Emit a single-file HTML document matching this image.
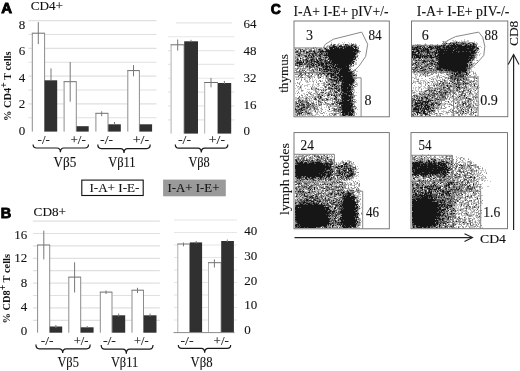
<!DOCTYPE html><html><head><meta charset="utf-8"><style>html,body{margin:0;padding:0;background:#fff}svg{display:block;filter:blur(0.3px)}</style></head><body><svg width="520" height="371" viewBox="0 0 520 371">
<rect width="520" height="371" fill="#fff"/>
<text x="1.2" y="13.2" font-family="Liberation Sans" font-size="15" font-weight="bold" fill="#000" stroke="#000" stroke-width="0.9">A</text>
<text x="30.7" y="9.8" font-family="Liberation Serif" font-size="13" textLength="32.3" lengthAdjust="spacingAndGlyphs" fill="#111" stroke="#222" stroke-width="0.12" >CD4+</text>
<line x1="28.5" y1="20.6" x2="156.5" y2="20.6" stroke="#e0e0e0" stroke-width="1.2" />
<line x1="28.5" y1="34.475" x2="156.5" y2="34.475" stroke="#e0e0e0" stroke-width="1.2" />
<line x1="28.5" y1="48.35" x2="156.5" y2="48.35" stroke="#e0e0e0" stroke-width="1.2" />
<line x1="28.5" y1="62.225" x2="156.5" y2="62.225" stroke="#e0e0e0" stroke-width="1.2" />
<line x1="28.5" y1="76.1" x2="156.5" y2="76.1" stroke="#e0e0e0" stroke-width="1.2" />
<line x1="28.5" y1="89.975" x2="156.5" y2="89.975" stroke="#e0e0e0" stroke-width="1.2" />
<line x1="28.5" y1="103.85" x2="156.5" y2="103.85" stroke="#e0e0e0" stroke-width="1.2" />
<line x1="28.5" y1="117.725" x2="156.5" y2="117.725" stroke="#e0e0e0" stroke-width="1.2" />
<rect x="31.80" y="33.20" width="13.10" height="98.40" fill="#fff" />
<path d="M32.30,131.60 V33.20 M44.60,33.20 V131.60" fill="none" stroke="#8c8c8c" stroke-width="1"/>
<path d="M31.80,33.20 H44.90" fill="none" stroke="#6e6e6e" stroke-width="1"/>
<rect x="44.60" y="80.30" width="12.60" height="51.30" fill="#303030" />
<rect x="63.60" y="81.70" width="13.00" height="49.90" fill="#fff" />
<path d="M64.10,131.60 V81.70 M76.30,81.70 V131.60" fill="none" stroke="#8c8c8c" stroke-width="1"/>
<path d="M63.60,81.70 H76.60" fill="none" stroke="#6e6e6e" stroke-width="1"/>
<rect x="76.60" y="126.20" width="12.10" height="5.40" fill="#303030" />
<rect x="95.40" y="113.30" width="12.90" height="18.30" fill="#fff" />
<path d="M95.90,131.60 V113.30 M108.00,113.30 V131.60" fill="none" stroke="#8c8c8c" stroke-width="1"/>
<path d="M95.40,113.30 H108.30" fill="none" stroke="#6e6e6e" stroke-width="1"/>
<rect x="108.30" y="124.30" width="12.50" height="7.30" fill="#303030" />
<rect x="127.30" y="70.60" width="12.40" height="61.00" fill="#fff" />
<path d="M127.80,131.60 V70.60 M139.40,70.60 V131.60" fill="none" stroke="#8c8c8c" stroke-width="1"/>
<path d="M127.30,70.60 H139.70" fill="none" stroke="#6e6e6e" stroke-width="1"/>
<rect x="139.70" y="124.30" width="12.40" height="7.30" fill="#303030" />
<line x1="38.3" y1="22.1" x2="38.3" y2="44.1" stroke="#787878" stroke-width="1" />
<line x1="51.0" y1="68.4" x2="51.0" y2="81" stroke="#787878" stroke-width="1" />
<line x1="70.2" y1="62" x2="70.2" y2="101.7" stroke="#787878" stroke-width="1" />
<line x1="101.7" y1="111.3" x2="101.7" y2="116.2" stroke="#787878" stroke-width="1" />
<line x1="114.5" y1="122" x2="114.5" y2="125" stroke="#787878" stroke-width="1" />
<line x1="133.5" y1="65.1" x2="133.5" y2="76.3" stroke="#787878" stroke-width="1" />
<line x1="168" y1="36.739999999999995" x2="234.3" y2="36.739999999999995" stroke="#e6e6e6" stroke-width="1.2" />
<line x1="168" y1="50.58" x2="234.3" y2="50.58" stroke="#e6e6e6" stroke-width="1.2" />
<line x1="168" y1="64.41999999999999" x2="234.3" y2="64.41999999999999" stroke="#e6e6e6" stroke-width="1.2" />
<line x1="168" y1="78.25999999999999" x2="234.3" y2="78.25999999999999" stroke="#e6e6e6" stroke-width="1.2" />
<line x1="168" y1="92.1" x2="234.3" y2="92.1" stroke="#e6e6e6" stroke-width="1.2" />
<line x1="168" y1="105.94" x2="234.3" y2="105.94" stroke="#e6e6e6" stroke-width="1.2" />
<line x1="168" y1="119.78" x2="234.3" y2="119.78" stroke="#e6e6e6" stroke-width="1.2" />
<rect x="170.60" y="44.80" width="13.60" height="88.80" fill="#fff" />
<path d="M171.10,133.60 V44.80 M183.90,44.80 V133.60" fill="none" stroke="#b0b0b0" stroke-width="1"/>
<path d="M170.60,44.80 H184.20" fill="none" stroke="#6e6e6e" stroke-width="1"/>
<rect x="184.20" y="41.30" width="13.80" height="92.30" fill="#303030" />
<rect x="204.20" y="82.50" width="13.70" height="51.10" fill="#fff" />
<path d="M204.70,133.60 V82.50 M217.60,82.50 V133.60" fill="none" stroke="#b0b0b0" stroke-width="1"/>
<path d="M204.20,82.50 H217.90" fill="none" stroke="#6e6e6e" stroke-width="1"/>
<rect x="217.90" y="83.00" width="13.30" height="50.60" fill="#303030" />
<line x1="177.7" y1="39.5" x2="177.7" y2="50.6" stroke="#787878" stroke-width="1" />
<line x1="191" y1="39.8" x2="191" y2="42" stroke="#787878" stroke-width="1" />
<line x1="211" y1="78" x2="211" y2="87.3" stroke="#787878" stroke-width="1" />
<line x1="224.4" y1="81" x2="224.4" y2="84" stroke="#787878" stroke-width="1" />
<line x1="175.8" y1="22.9" x2="232" y2="22.9" stroke="#e6e6e6" stroke-width="1.2" />
<text x="25.3" y="28.8" font-family="Liberation Serif" font-size="13" text-anchor="end" fill="#111" stroke="#222" stroke-width="0.1" >8</text>
<text x="25.3" y="55.2" font-family="Liberation Serif" font-size="13" text-anchor="end" fill="#111" stroke="#222" stroke-width="0.1" >6</text>
<text x="25.3" y="81.8" font-family="Liberation Serif" font-size="13" text-anchor="end" fill="#111" stroke="#222" stroke-width="0.1" >4</text>
<text x="25.3" y="108.2" font-family="Liberation Serif" font-size="13" text-anchor="end" fill="#111" stroke="#222" stroke-width="0.1" >2</text>
<text x="25.3" y="134.6" font-family="Liberation Serif" font-size="13" text-anchor="end" fill="#111" stroke="#222" stroke-width="0.1" >0</text>
<text x="243.5" y="27.7" font-family="Liberation Serif" font-size="13" fill="#111" stroke="#222" stroke-width="0.1" >64</text>
<text x="243.5" y="54.6" font-family="Liberation Serif" font-size="13" fill="#111" stroke="#222" stroke-width="0.1" >48</text>
<text x="243.5" y="82" font-family="Liberation Serif" font-size="13" fill="#111" stroke="#222" stroke-width="0.1" >32</text>
<text x="243.5" y="108.8" font-family="Liberation Serif" font-size="13" fill="#111" stroke="#222" stroke-width="0.1" >16</text>
<text x="243.5" y="134.8" font-family="Liberation Serif" font-size="13" fill="#111" stroke="#222" stroke-width="0.1" >0</text>
<text transform="translate(10.8,121) rotate(-90)" font-family="Liberation Serif" font-size="11" font-weight="bold" fill="#111" textLength="69.6" lengthAdjust="spacingAndGlyphs">% CD4<tspan font-size="10" dy="-3.5">+</tspan><tspan dy="3.5"> T cells</tspan></text>
<text x="37.6" y="143.5" font-family="Liberation Serif" font-size="13" textLength="12.2" lengthAdjust="spacingAndGlyphs" fill="#111" stroke="#222" stroke-width="0.12" >-/-</text>
<text x="70.4" y="143.5" font-family="Liberation Serif" font-size="13" textLength="15.4" lengthAdjust="spacingAndGlyphs" fill="#111" stroke="#222" stroke-width="0.12" >+/-</text>
<text x="100.1" y="143.5" font-family="Liberation Serif" font-size="13" textLength="12.9" lengthAdjust="spacingAndGlyphs" fill="#111" stroke="#222" stroke-width="0.12" >-/-</text>
<text x="132.7" y="143.5" font-family="Liberation Serif" font-size="13" textLength="16.4" lengthAdjust="spacingAndGlyphs" fill="#111" stroke="#222" stroke-width="0.12" >+/-</text>
<text x="178" y="143.5" font-family="Liberation Serif" font-size="13" textLength="13" lengthAdjust="spacingAndGlyphs" fill="#111" stroke="#222" stroke-width="0.12" >-/-</text>
<text x="208.8" y="143.5" font-family="Liberation Serif" font-size="13" textLength="16.2" lengthAdjust="spacingAndGlyphs" fill="#111" stroke="#222" stroke-width="0.12" >+/-</text>
<path d="M33.1,144.5 Q33.1,148 36.6,148 L56.9,148 Q60.4,148 60.4,152.3 Q60.4,148 63.9,148 L85.0,148 Q88.5,148 88.5,144.5" fill="none" stroke="#1a1a1a" stroke-width="1.2"/>
<path d="M97.8,144.6 Q97.8,148.6 101.3,148.6 L120.5,148.6 Q124,148.6 124,153 Q124,148.6 127.5,148.6 L146.7,148.6 Q150.2,148.6 150.2,144.6" fill="none" stroke="#1a1a1a" stroke-width="1.2"/>
<path d="M175.3,144.5 Q175.3,148.2 178.8,148.2 L197.8,148.2 Q201.3,148.2 201.3,152.6 Q201.3,148.2 204.8,148.2 L224.3,148.2 Q227.8,148.2 227.8,144.5" fill="none" stroke="#1a1a1a" stroke-width="1.2"/>
<text x="53.6" y="167" font-family="Liberation Serif" font-size="14" textLength="22.8" lengthAdjust="spacingAndGlyphs" fill="#111" stroke="#222" stroke-width="0.12" >Vβ5</text>
<text x="108.2" y="167" font-family="Liberation Serif" font-size="14" textLength="27.4" lengthAdjust="spacingAndGlyphs" fill="#111" stroke="#222" stroke-width="0.12" >Vβ11</text>
<text x="188.4" y="167" font-family="Liberation Serif" font-size="14" textLength="21.4" lengthAdjust="spacingAndGlyphs" fill="#111" stroke="#222" stroke-width="0.12" >Vβ8</text>
<rect x="81.80" y="180.10" width="61.40" height="15.40" fill="#fff" stroke="#111" stroke-width="1.1" />
<text x="89.4" y="191.8" font-family="Liberation Serif" font-size="13.5" textLength="50" lengthAdjust="spacingAndGlyphs" fill="#111" stroke="#222" stroke-width="0.12" >I-A+ I-E-</text>
<rect x="163.10" y="179.60" width="62.70" height="16.70" fill="#9a9a9a" />
<text x="167.5" y="191.8" font-family="Liberation Serif" font-size="13.5" textLength="51.9" lengthAdjust="spacingAndGlyphs" fill="#111" stroke="#222" stroke-width="0.12" >I-A+ I-E+</text>
<text x="0.8" y="218.4" font-family="Liberation Sans" font-size="14.5" font-weight="bold" fill="#000" stroke="#000" stroke-width="0.9">B</text>
<text x="33.6" y="216.4" font-family="Liberation Serif" font-size="13" textLength="32.4" lengthAdjust="spacingAndGlyphs" fill="#111" stroke="#222" stroke-width="0.12" >CD8+</text>
<line x1="33" y1="320.3" x2="159.8" y2="320.3" stroke="#e0e0e0" stroke-width="1.2" />
<line x1="33" y1="307.9" x2="159.8" y2="307.9" stroke="#e0e0e0" stroke-width="1.2" />
<line x1="33" y1="295.5" x2="159.8" y2="295.5" stroke="#e0e0e0" stroke-width="1.2" />
<line x1="33" y1="283.09999999999997" x2="159.8" y2="283.09999999999997" stroke="#e0e0e0" stroke-width="1.2" />
<line x1="33" y1="270.7" x2="159.8" y2="270.7" stroke="#e0e0e0" stroke-width="1.2" />
<line x1="33" y1="258.29999999999995" x2="159.8" y2="258.29999999999995" stroke="#e0e0e0" stroke-width="1.2" />
<line x1="33" y1="245.89999999999998" x2="159.8" y2="245.89999999999998" stroke="#e0e0e0" stroke-width="1.2" />
<line x1="33" y1="233.5" x2="159.8" y2="233.5" stroke="#e0e0e0" stroke-width="1.2" />
<line x1="33" y1="221.09999999999997" x2="159.8" y2="221.09999999999997" stroke="#e0e0e0" stroke-width="1.2" />
<rect x="37.10" y="245.00" width="12.90" height="87.70" fill="#fff" />
<path d="M37.60,332.70 V245.00 M49.70,245.00 V332.70" fill="none" stroke="#8c8c8c" stroke-width="1"/>
<path d="M37.10,245.00 H50.00" fill="none" stroke="#6e6e6e" stroke-width="1"/>
<rect x="49.80" y="326.50" width="12.40" height="6.20" fill="#303030" />
<rect x="68.30" y="277.10" width="12.70" height="55.60" fill="#fff" />
<path d="M68.80,332.70 V277.10 M80.70,277.10 V332.70" fill="none" stroke="#8c8c8c" stroke-width="1"/>
<path d="M68.30,277.10 H81.00" fill="none" stroke="#6e6e6e" stroke-width="1"/>
<rect x="80.80" y="327.30" width="12.80" height="5.40" fill="#303030" />
<rect x="99.80" y="292.10" width="12.50" height="40.60" fill="#fff" />
<path d="M100.30,332.70 V292.10 M112.00,292.10 V332.70" fill="none" stroke="#8c8c8c" stroke-width="1"/>
<path d="M99.80,292.10 H112.30" fill="none" stroke="#6e6e6e" stroke-width="1"/>
<rect x="112.30" y="315.30" width="12.90" height="17.40" fill="#303030" />
<rect x="131.50" y="290.20" width="12.30" height="42.50" fill="#fff" />
<path d="M132.00,332.70 V290.20 M143.50,290.20 V332.70" fill="none" stroke="#8c8c8c" stroke-width="1"/>
<path d="M131.50,290.20 H143.80" fill="none" stroke="#6e6e6e" stroke-width="1"/>
<rect x="143.80" y="315.30" width="12.70" height="17.40" fill="#303030" />
<line x1="43.8" y1="230.6" x2="43.8" y2="259.4" stroke="#787878" stroke-width="1" />
<line x1="55.9" y1="325" x2="55.9" y2="328" stroke="#787878" stroke-width="1" />
<line x1="74.6" y1="262.3" x2="74.6" y2="292.5" stroke="#787878" stroke-width="1" />
<line x1="87.2" y1="326" x2="87.2" y2="328" stroke="#787878" stroke-width="1" />
<line x1="106" y1="290.5" x2="106" y2="294" stroke="#787878" stroke-width="1" />
<line x1="118.7" y1="313.5" x2="118.7" y2="316.5" stroke="#787878" stroke-width="1" />
<line x1="137.5" y1="287.8" x2="137.5" y2="293" stroke="#787878" stroke-width="1" />
<line x1="150.1" y1="313.5" x2="150.1" y2="316.5" stroke="#787878" stroke-width="1" />
<line x1="174" y1="320.0" x2="237" y2="320.0" stroke="#e6e6e6" stroke-width="1.2" />
<line x1="174" y1="307.5" x2="237" y2="307.5" stroke="#e6e6e6" stroke-width="1.2" />
<line x1="174" y1="295.0" x2="237" y2="295.0" stroke="#e6e6e6" stroke-width="1.2" />
<line x1="174" y1="282.5" x2="237" y2="282.5" stroke="#e6e6e6" stroke-width="1.2" />
<line x1="174" y1="270.0" x2="237" y2="270.0" stroke="#e6e6e6" stroke-width="1.2" />
<line x1="174" y1="257.5" x2="237" y2="257.5" stroke="#e6e6e6" stroke-width="1.2" />
<line x1="174" y1="245.0" x2="237" y2="245.0" stroke="#e6e6e6" stroke-width="1.2" />
<line x1="174" y1="232.5" x2="237" y2="232.5" stroke="#e6e6e6" stroke-width="1.2" />
<line x1="174" y1="220.0" x2="237" y2="220.0" stroke="#e6e6e6" stroke-width="1.2" />
<rect x="177.30" y="244.00" width="12.50" height="88.50" fill="#fff" />
<path d="M177.80,332.50 V244.00 M189.50,244.00 V332.50" fill="none" stroke="#b0b0b0" stroke-width="1"/>
<path d="M177.30,244.00 H189.80" fill="none" stroke="#6e6e6e" stroke-width="1"/>
<rect x="189.80" y="242.40" width="12.30" height="90.10" fill="#303030" />
<rect x="208.00" y="262.70" width="13.20" height="69.80" fill="#fff" />
<path d="M208.50,332.50 V262.70 M220.90,262.70 V332.50" fill="none" stroke="#b0b0b0" stroke-width="1"/>
<path d="M208.00,262.70 H221.20" fill="none" stroke="#6e6e6e" stroke-width="1"/>
<rect x="221.20" y="241.00" width="12.70" height="91.50" fill="#303030" />
<line x1="183.5" y1="242.5" x2="183.5" y2="246.3" stroke="#787878" stroke-width="1" />
<line x1="196.2" y1="241" x2="196.2" y2="243.5" stroke="#787878" stroke-width="1" />
<line x1="214.4" y1="259.4" x2="214.4" y2="267.5" stroke="#787878" stroke-width="1" />
<line x1="227.3" y1="239.6" x2="227.3" y2="242" stroke="#787878" stroke-width="1" />
<line x1="173.5" y1="332.6" x2="234.5" y2="332.6" stroke="#8a8a8a" stroke-width="1" />
<text x="27.2" y="239.2" font-family="Liberation Serif" font-size="13" text-anchor="end" fill="#111" stroke="#222" stroke-width="0.1" >16</text>
<text x="27.2" y="262.3" font-family="Liberation Serif" font-size="13" text-anchor="end" fill="#111" stroke="#222" stroke-width="0.1" >12</text>
<text x="27.2" y="286.8" font-family="Liberation Serif" font-size="13" text-anchor="end" fill="#111" stroke="#222" stroke-width="0.1" >8</text>
<text x="27.2" y="311.2" font-family="Liberation Serif" font-size="13" text-anchor="end" fill="#111" stroke="#222" stroke-width="0.1" >4</text>
<text x="27.2" y="335.2" font-family="Liberation Serif" font-size="13" text-anchor="end" fill="#111" stroke="#222" stroke-width="0.1" >0</text>
<text x="244.2" y="234.9" font-family="Liberation Serif" font-size="13" fill="#111" stroke="#222" stroke-width="0.1" >40</text>
<text x="244.2" y="259.8" font-family="Liberation Serif" font-size="13" fill="#111" stroke="#222" stroke-width="0.1" >30</text>
<text x="244.2" y="285" font-family="Liberation Serif" font-size="13" fill="#111" stroke="#222" stroke-width="0.1" >20</text>
<text x="244.2" y="309.4" font-family="Liberation Serif" font-size="13" fill="#111" stroke="#222" stroke-width="0.1" >10</text>
<text x="244.2" y="333.8" font-family="Liberation Serif" font-size="13" fill="#111" stroke="#222" stroke-width="0.1" >0</text>
<text transform="translate(9.9,323.4) rotate(-90)" font-family="Liberation Serif" font-size="11" font-weight="bold" fill="#111" textLength="69.4" lengthAdjust="spacingAndGlyphs">% CD8<tspan font-size="10" dy="-3.5">+</tspan><tspan dy="3.5"> T cells</tspan></text>
<text x="40.8" y="344.8" font-family="Liberation Serif" font-size="13" textLength="12.7" lengthAdjust="spacingAndGlyphs" fill="#111" stroke="#222" stroke-width="0.12" >-/-</text>
<text x="73.7" y="344.8" font-family="Liberation Serif" font-size="13" textLength="14.8" lengthAdjust="spacingAndGlyphs" fill="#111" stroke="#222" stroke-width="0.12" >+/-</text>
<text x="102.9" y="344.8" font-family="Liberation Serif" font-size="13" textLength="13.1" lengthAdjust="spacingAndGlyphs" fill="#111" stroke="#222" stroke-width="0.12" >-/-</text>
<text x="134" y="344.8" font-family="Liberation Serif" font-size="13" textLength="14.6" lengthAdjust="spacingAndGlyphs" fill="#111" stroke="#222" stroke-width="0.12" >+/-</text>
<text x="180.5" y="344.8" font-family="Liberation Serif" font-size="13" textLength="13.0" lengthAdjust="spacingAndGlyphs" fill="#111" stroke="#222" stroke-width="0.12" >-/-</text>
<text x="213.6" y="344.8" font-family="Liberation Serif" font-size="13" textLength="15.2" lengthAdjust="spacingAndGlyphs" fill="#111" stroke="#222" stroke-width="0.12" >+/-</text>
<path d="M35.9,344.5 Q35.9,348.8 39.4,348.8 L59.2,348.8 Q62.7,348.8 62.7,353 Q62.7,348.8 66.2,348.8 L86.7,348.8 Q90.2,348.8 90.2,344.5" fill="none" stroke="#1a1a1a" stroke-width="1.2"/>
<path d="M101.2,345 Q101.2,349.2 104.7,349.2 L122.8,349.2 Q126.3,349.2 126.3,353.8 Q126.3,349.2 129.8,349.2 L149.5,349.2 Q153,349.2 153,345" fill="none" stroke="#1a1a1a" stroke-width="1.2"/>
<path d="M178.3,345 Q178.3,348.3 181.8,348.3 L201.2,348.3 Q204.7,348.3 204.7,352.8 Q204.7,348.3 208.2,348.3 L227.2,348.3 Q230.7,348.3 230.7,345" fill="none" stroke="#1a1a1a" stroke-width="1.2"/>
<text x="57.4" y="367.3" font-family="Liberation Serif" font-size="14" textLength="21.5" lengthAdjust="spacingAndGlyphs" fill="#111" stroke="#222" stroke-width="0.12" >Vβ5</text>
<text x="110.9" y="367.3" font-family="Liberation Serif" font-size="14" textLength="27.2" lengthAdjust="spacingAndGlyphs" fill="#111" stroke="#222" stroke-width="0.12" >Vβ11</text>
<text x="190.6" y="367.3" font-family="Liberation Serif" font-size="14" textLength="22" lengthAdjust="spacingAndGlyphs" fill="#111" stroke="#222" stroke-width="0.12" >Vβ8</text>
<text x="270.8" y="13.9" font-family="Liberation Sans" font-size="14" font-weight="bold" fill="#000" stroke="#000" stroke-width="0.9">C</text>
<text x="293.6" y="15.6" font-family="Liberation Serif" font-size="14" textLength="94.8" lengthAdjust="spacingAndGlyphs" fill="#111" stroke="#222" stroke-width="0.12" >I-A+ I-E+ pIV+/-</text>
<text x="416.8" y="15.6" font-family="Liberation Serif" font-size="14" textLength="92.6" lengthAdjust="spacingAndGlyphs" fill="#111" stroke="#222" stroke-width="0.12" >I-A+ I-E+ pIV-/-</text>
<rect x="294.00" y="21.00" width="95.30" height="95.80" fill="none" stroke="#6a6a6a" stroke-width="0.9" />
<rect x="411.50" y="21.00" width="96.30" height="95.70" fill="none" stroke="#6a6a6a" stroke-width="0.9" />
<rect x="294.00" y="132.60" width="95.30" height="96.20" fill="none" stroke="#6a6a6a" stroke-width="0.9" />
<rect x="411.00" y="132.60" width="96.50" height="96.10" fill="none" stroke="#6a6a6a" stroke-width="0.9" />
<defs><filter id="soft" x="0" y="0" width="100%" height="100%"><feGaussianBlur stdDeviation="0.45"/></filter></defs><g filter="url(#soft)"><path d="M464 39.5h1M452 40.5h2M455 40.5h1M461 40.5h1M464 40.5h1M467 40.5h2M442 41.5h1M444 41.5h2M447 41.5h1M453 41.5h3M457 41.5h1M459 41.5h1M461 41.5h3M465 41.5h4M474 41.5h1M331 42.5h1M342 42.5h1M344 42.5h1M348 42.5h1M444 42.5h1M446 42.5h1M466 42.5h3M473 42.5h2M476 42.5h1M331 43.5h1M338 43.5h2M343 43.5h1M349 43.5h1M353 43.5h1M355 43.5h1M425 43.5h1M471 43.5h1M475 43.5h3M330 44.5h1M337 44.5h1M340 44.5h3M344 44.5h1M348 44.5h3M354 44.5h1M356 44.5h1M415 44.5h1M418 44.5h3M424 44.5h1M426 44.5h1M430 44.5h3M441 44.5h2M446 44.5h2M477 44.5h1M327 45.5h3M335 45.5h2M343 45.5h1M359 45.5h1M412 45.5h1M414 45.5h2M426 45.5h1M428 45.5h1M434 45.5h1M326 46.5h1M328 46.5h1M357 46.5h2M425 46.5h1M428 46.5h1M478 46.5h3M325 47.5h1M327 47.5h2M421 47.5h1M478 47.5h1M481 47.5h1M295 48.5h4M300 48.5h1M306 48.5h2M310 48.5h1M312 48.5h1M314 48.5h1M317 48.5h1M322 48.5h2M354 48.5h1M296 49.5h1M303 49.5h2M307 49.5h2M315 49.5h1M317 49.5h1M323 49.5h1M358 49.5h1M479 49.5h1M295 50.5h1M301 50.5h2M306 50.5h1M308 50.5h1M312 50.5h1M315 50.5h1M317 50.5h1M324 50.5h1M359 50.5h1M412 50.5h1M433 50.5h1M478 50.5h1M299 51.5h1M305 51.5h1M477 51.5h1M479 51.5h1M301 52.5h2M305 52.5h1M311 52.5h1M359 52.5h1M417 52.5h1M477 52.5h1M295 53.5h3M301 53.5h2M318 53.5h1M359 53.5h1M416 53.5h1M476 53.5h1M480 53.5h1M295 54.5h1M304 54.5h2M310 54.5h1M357 54.5h1M423 54.5h1M428 54.5h1M436 54.5h1M477 54.5h1M479 54.5h1M295 55.5h2M307 55.5h1M356 55.5h1M358 55.5h1M476 55.5h2M479 55.5h1M296 56.5h1M300 56.5h1M302 56.5h2M315 56.5h1M323 56.5h1M475 56.5h2M298 57.5h2M304 57.5h1M317 57.5h1M357 57.5h1M476 57.5h1M296 58.5h1M298 58.5h1M303 58.5h1M305 58.5h1M309 58.5h1M322 58.5h1M327 58.5h1M358 58.5h1M417 58.5h1M421 58.5h1M434 58.5h1M476 58.5h1M295 59.5h1M309 59.5h1M326 59.5h1M356 59.5h1M412 59.5h1M416 59.5h2M420 59.5h1M434 59.5h1M474 59.5h1M301 60.5h1M315 60.5h1M354 60.5h2M473 60.5h2M476 60.5h1M302 61.5h1M304 61.5h1M414 61.5h1M418 61.5h1M420 61.5h1M430 61.5h1M436 61.5h2M472 61.5h1M295 62.5h1M304 62.5h1M354 62.5h3M413 62.5h2M472 62.5h1M474 62.5h1M303 63.5h1M315 63.5h1M355 63.5h2M416 63.5h1M425 63.5h1M472 63.5h1M474 63.5h2M298 64.5h1M353 64.5h4M414 64.5h1M420 64.5h1M423 64.5h1M468 64.5h1M473 64.5h1M301 65.5h1M304 65.5h2M315 65.5h1M349 65.5h1M352 65.5h1M413 65.5h1M415 65.5h1M421 65.5h3M430 65.5h1M433 65.5h2M302 66.5h1M319 66.5h1M352 66.5h2M414 66.5h1M432 66.5h1M470 66.5h1M472 66.5h1M297 67.5h1M299 67.5h2M308 67.5h1M315 67.5h1M320 67.5h2M427 67.5h1M431 67.5h1M471 67.5h1M474 67.5h1M296 68.5h1M299 68.5h1M301 68.5h1M306 68.5h3M312 68.5h1M318 68.5h1M349 68.5h3M413 68.5h1M418 68.5h2M426 68.5h1M433 68.5h1M295 69.5h1M299 69.5h1M301 69.5h1M303 69.5h3M308 69.5h1M311 69.5h1M314 69.5h1M352 69.5h1M354 69.5h1M421 69.5h1M428 69.5h1M470 69.5h2M300 70.5h2M306 70.5h3M314 70.5h2M318 70.5h1M351 70.5h1M418 70.5h1M427 70.5h1M432 70.5h1M471 70.5h1M302 71.5h1M306 71.5h1M309 71.5h2M312 71.5h1M315 71.5h2M318 71.5h3M354 71.5h1M356 71.5h2M412 71.5h1M429 71.5h2M434 71.5h2M442 71.5h1M444 71.5h1M468 71.5h1M470 71.5h4M297 72.5h1M301 72.5h1M304 72.5h2M311 72.5h2M314 72.5h1M321 72.5h1M353 72.5h1M413 72.5h1M416 72.5h1M418 72.5h1M420 72.5h1M422 72.5h2M426 72.5h2M431 72.5h3M436 72.5h1M438 72.5h2M448 72.5h1M468 72.5h1M470 72.5h1M475 72.5h1M295 73.5h4M303 73.5h1M306 73.5h2M310 73.5h1M313 73.5h3M318 73.5h1M354 73.5h1M356 73.5h1M413 73.5h2M416 73.5h2M419 73.5h3M423 73.5h1M425 73.5h2M429 73.5h1M432 73.5h1M435 73.5h1M438 73.5h1M440 73.5h1M442 73.5h2M447 73.5h2M455 73.5h1M465 73.5h1M469 73.5h1M474 73.5h1M298 74.5h1M304 74.5h1M308 74.5h1M314 74.5h2M322 74.5h2M326 74.5h1M356 74.5h1M414 74.5h1M416 74.5h2M421 74.5h2M424 74.5h1M426 74.5h1M430 74.5h1M444 74.5h1M451 74.5h1M471 74.5h1M473 74.5h1M475 74.5h2M300 75.5h1M304 75.5h2M309 75.5h2M314 75.5h2M323 75.5h2M329 75.5h1M415 75.5h1M417 75.5h1M419 75.5h1M422 75.5h3M426 75.5h1M428 75.5h1M430 75.5h1M436 75.5h2M440 75.5h2M445 75.5h1M447 75.5h1M449 75.5h1M464 75.5h1M474 75.5h3M295 76.5h3M305 76.5h1M312 76.5h3M317 76.5h1M319 76.5h2M322 76.5h2M325 76.5h1M329 76.5h1M354 76.5h3M415 76.5h2M421 76.5h1M427 76.5h2M433 76.5h2M436 76.5h1M438 76.5h2M442 76.5h1M444 76.5h1M448 76.5h1M467 76.5h7M475 76.5h1M477 76.5h2M295 77.5h5M303 77.5h4M310 77.5h3M317 77.5h1M323 77.5h1M325 77.5h1M330 77.5h1M355 77.5h1M412 77.5h2M415 77.5h2M431 77.5h2M436 77.5h1M440 77.5h1M444 77.5h1M447 77.5h1M449 77.5h1M467 77.5h2M470 77.5h1M475 77.5h1M296 78.5h1M298 78.5h2M301 78.5h1M304 78.5h2M307 78.5h1M309 78.5h1M312 78.5h1M319 78.5h1M322 78.5h2M325 78.5h1M332 78.5h1M415 78.5h2M418 78.5h1M421 78.5h2M430 78.5h1M432 78.5h4M437 78.5h1M439 78.5h1M442 78.5h1M446 78.5h2M467 78.5h2M473 78.5h1M475 78.5h1M477 78.5h1M297 79.5h1M305 79.5h1M312 79.5h1M315 79.5h1M325 79.5h1M355 79.5h1M416 79.5h1M425 79.5h1M432 79.5h1M435 79.5h2M440 79.5h1M443 79.5h1M447 79.5h2M456 79.5h1M462 79.5h1M469 79.5h1M305 80.5h3M309 80.5h1M312 80.5h1M314 80.5h1M316 80.5h1M322 80.5h1M327 80.5h1M356 80.5h1M413 80.5h1M417 80.5h2M420 80.5h5M426 80.5h1M429 80.5h1M433 80.5h1M437 80.5h1M440 80.5h1M442 80.5h2M446 80.5h2M453 80.5h1M455 80.5h1M464 80.5h1M469 80.5h2M473 80.5h1M475 80.5h1M300 81.5h1M305 81.5h2M309 81.5h2M312 81.5h1M316 81.5h1M318 81.5h1M321 81.5h2M325 81.5h1M327 81.5h1M355 81.5h1M413 81.5h4M420 81.5h1M423 81.5h3M427 81.5h1M430 81.5h1M433 81.5h2M436 81.5h1M446 81.5h2M455 81.5h2M467 81.5h2M476 81.5h2M299 82.5h2M306 82.5h3M313 82.5h1M323 82.5h1M328 82.5h2M334 82.5h1M340 82.5h1M355 82.5h2M414 82.5h2M418 82.5h4M423 82.5h1M427 82.5h1M429 82.5h1M434 82.5h2M438 82.5h1M441 82.5h1M451 82.5h1M454 82.5h1M456 82.5h1M461 82.5h1M468 82.5h1M471 82.5h3M475 82.5h2M295 83.5h1M297 83.5h2M313 83.5h1M317 83.5h1M319 83.5h1M321 83.5h2M325 83.5h1M327 83.5h1M330 83.5h1M334 83.5h1M340 83.5h1M354 83.5h1M356 83.5h2M415 83.5h1M418 83.5h1M421 83.5h1M423 83.5h1M425 83.5h3M429 83.5h1M431 83.5h1M434 83.5h3M438 83.5h1M441 83.5h1M444 83.5h1M450 83.5h1M452 83.5h2M469 83.5h1M476 83.5h1M307 84.5h3M312 84.5h2M315 84.5h1M317 84.5h1M323 84.5h1M325 84.5h1M337 84.5h1M339 84.5h2M353 84.5h1M357 84.5h1M420 84.5h2M427 84.5h1M431 84.5h1M434 84.5h1M438 84.5h1M445 84.5h2M448 84.5h4M453 84.5h1M468 84.5h1M472 84.5h2M475 84.5h1M300 85.5h2M304 85.5h4M312 85.5h2M316 85.5h1M318 85.5h2M322 85.5h1M357 85.5h1M414 85.5h1M421 85.5h1M429 85.5h4M439 85.5h1M445 85.5h1M452 85.5h2M457 85.5h1M460 85.5h3M466 85.5h1M468 85.5h2M473 85.5h1M297 86.5h1M301 86.5h1M304 86.5h1M307 86.5h1M310 86.5h1M314 86.5h1M317 86.5h2M328 86.5h3M356 86.5h1M418 86.5h1M420 86.5h2M423 86.5h2M427 86.5h2M433 86.5h1M436 86.5h3M442 86.5h1M445 86.5h2M453 86.5h1M460 86.5h1M463 86.5h1M467 86.5h2M471 86.5h1M473 86.5h1M476 86.5h1M297 87.5h1M299 87.5h1M301 87.5h1M312 87.5h5M320 87.5h3M324 87.5h1M332 87.5h2M340 87.5h1M354 87.5h1M413 87.5h1M415 87.5h2M418 87.5h1M420 87.5h1M424 87.5h2M427 87.5h1M434 87.5h3M438 87.5h2M442 87.5h1M446 87.5h1M450 87.5h3M456 87.5h1M467 87.5h2M471 87.5h6M479 87.5h1M295 88.5h1M298 88.5h4M305 88.5h1M312 88.5h3M317 88.5h2M325 88.5h1M327 88.5h1M413 88.5h1M415 88.5h1M418 88.5h2M421 88.5h1M423 88.5h1M425 88.5h3M431 88.5h1M433 88.5h1M442 88.5h1M445 88.5h1M450 88.5h1M452 88.5h1M455 88.5h1M462 88.5h1M465 88.5h1M467 88.5h3M471 88.5h5M478 88.5h1M298 89.5h2M301 89.5h1M307 89.5h3M313 89.5h2M316 89.5h1M319 89.5h1M321 89.5h2M324 89.5h1M327 89.5h1M335 89.5h1M354 89.5h1M415 89.5h1M418 89.5h1M427 89.5h1M430 89.5h1M432 89.5h2M436 89.5h1M438 89.5h1M446 89.5h1M451 89.5h5M458 89.5h1M464 89.5h2M467 89.5h1M470 89.5h2M474 89.5h1M297 90.5h1M303 90.5h1M313 90.5h2M316 90.5h1M318 90.5h2M322 90.5h1M324 90.5h1M326 90.5h1M331 90.5h1M333 90.5h1M335 90.5h2M352 90.5h3M413 90.5h1M415 90.5h2M418 90.5h1M421 90.5h1M424 90.5h1M436 90.5h2M439 90.5h1M442 90.5h1M447 90.5h1M455 90.5h1M459 90.5h1M461 90.5h1M466 90.5h1M474 90.5h1M296 91.5h1M298 91.5h1M301 91.5h2M307 91.5h1M309 91.5h1M317 91.5h2M321 91.5h5M328 91.5h1M331 91.5h1M333 91.5h1M337 91.5h1M340 91.5h1M354 91.5h1M412 91.5h1M414 91.5h1M416 91.5h2M420 91.5h1M422 91.5h2M428 91.5h1M432 91.5h1M435 91.5h1M443 91.5h1M448 91.5h2M454 91.5h3M458 91.5h1M464 91.5h2M467 91.5h1M472 91.5h3M478 91.5h1M306 92.5h1M309 92.5h2M315 92.5h1M317 92.5h2M325 92.5h1M327 92.5h1M339 92.5h1M354 92.5h1M356 92.5h1M412 92.5h1M415 92.5h1M419 92.5h4M425 92.5h4M437 92.5h1M451 92.5h1M461 92.5h1M465 92.5h1M468 92.5h2M471 92.5h1M474 92.5h2M295 93.5h1M299 93.5h1M303 93.5h2M308 93.5h1M313 93.5h1M315 93.5h2M320 93.5h2M323 93.5h2M326 93.5h2M330 93.5h1M332 93.5h1M335 93.5h1M337 93.5h1M339 93.5h1M412 93.5h3M416 93.5h1M418 93.5h1M421 93.5h1M423 93.5h1M426 93.5h3M430 93.5h2M438 93.5h1M447 93.5h2M452 93.5h1M455 93.5h2M458 93.5h1M467 93.5h1M472 93.5h1M474 93.5h2M301 94.5h1M304 94.5h1M312 94.5h2M315 94.5h2M320 94.5h1M322 94.5h3M326 94.5h1M333 94.5h1M335 94.5h1M414 94.5h4M439 94.5h1M449 94.5h1M451 94.5h1M453 94.5h1M458 94.5h1M464 94.5h1M467 94.5h2M470 94.5h2M473 94.5h1M475 94.5h1M477 94.5h1M297 95.5h1M305 95.5h1M311 95.5h2M316 95.5h2M320 95.5h1M323 95.5h4M340 95.5h1M355 95.5h2M418 95.5h3M423 95.5h1M426 95.5h1M435 95.5h2M446 95.5h1M448 95.5h1M456 95.5h4M466 95.5h1M468 95.5h3M472 95.5h2M476 95.5h1M302 96.5h1M304 96.5h3M308 96.5h1M310 96.5h5M316 96.5h1M323 96.5h1M328 96.5h3M333 96.5h1M338 96.5h1M340 96.5h1M413 96.5h1M415 96.5h1M421 96.5h1M426 96.5h1M431 96.5h1M440 96.5h1M450 96.5h2M453 96.5h3M458 96.5h1M461 96.5h3M465 96.5h1M468 96.5h3M472 96.5h1M475 96.5h1M477 96.5h1M295 97.5h2M300 97.5h2M303 97.5h1M305 97.5h1M309 97.5h2M313 97.5h1M316 97.5h1M319 97.5h1M322 97.5h1M327 97.5h1M329 97.5h6M337 97.5h2M354 97.5h1M412 97.5h2M416 97.5h1M418 97.5h1M420 97.5h1M428 97.5h1M435 97.5h2M438 97.5h1M449 97.5h1M451 97.5h2M455 97.5h1M457 97.5h1M459 97.5h1M461 97.5h1M465 97.5h1M467 97.5h2M474 97.5h1M295 98.5h2M299 98.5h3M303 98.5h2M307 98.5h1M309 98.5h2M313 98.5h1M316 98.5h1M322 98.5h3M327 98.5h2M333 98.5h1M337 98.5h3M353 98.5h1M420 98.5h1M433 98.5h1M438 98.5h1M447 98.5h1M451 98.5h2M454 98.5h1M457 98.5h3M461 98.5h1M471 98.5h1M476 98.5h1M295 99.5h4M300 99.5h4M307 99.5h1M311 99.5h1M313 99.5h1M318 99.5h1M320 99.5h1M329 99.5h1M355 99.5h1M417 99.5h1M420 99.5h1M424 99.5h1M432 99.5h2M445 99.5h1M448 99.5h1M455 99.5h1M458 99.5h2M462 99.5h2M467 99.5h1M472 99.5h1M474 99.5h3M296 100.5h1M301 100.5h1M304 100.5h1M308 100.5h1M310 100.5h3M315 100.5h3M319 100.5h3M328 100.5h4M337 100.5h1M339 100.5h1M354 100.5h1M356 100.5h1M424 100.5h1M427 100.5h1M436 100.5h1M438 100.5h1M450 100.5h1M452 100.5h4M457 100.5h2M460 100.5h3M466 100.5h1M469 100.5h1M474 100.5h1M297 101.5h1M309 101.5h3M316 101.5h1M321 101.5h1M327 101.5h1M333 101.5h1M431 101.5h3M436 101.5h1M440 101.5h1M446 101.5h2M452 101.5h1M454 101.5h1M459 101.5h1M461 101.5h1M463 101.5h1M466 101.5h1M469 101.5h1M471 101.5h1M474 101.5h1M477 101.5h2M312 102.5h1M315 102.5h1M319 102.5h1M324 102.5h1M326 102.5h1M330 102.5h1M332 102.5h1M335 102.5h1M353 102.5h1M355 102.5h2M429 102.5h1M444 102.5h1M449 102.5h1M451 102.5h1M454 102.5h3M461 102.5h1M463 102.5h1M466 102.5h1M469 102.5h3M474 102.5h1M478 102.5h1M300 103.5h1M304 103.5h2M310 103.5h1M314 103.5h1M316 103.5h1M319 103.5h2M323 103.5h1M329 103.5h1M336 103.5h1M354 103.5h1M413 103.5h1M430 103.5h1M442 103.5h3M446 103.5h2M449 103.5h2M453 103.5h1M456 103.5h2M459 103.5h1M461 103.5h1M469 103.5h1M473 103.5h2M476 103.5h1M478 103.5h1M297 104.5h2M300 104.5h1M305 104.5h1M311 104.5h1M315 104.5h1M323 104.5h1M325 104.5h2M354 104.5h1M441 104.5h3M445 104.5h1M447 104.5h2M453 104.5h1M458 104.5h1M461 104.5h1M471 104.5h3M476 104.5h1M479 104.5h1M296 105.5h1M305 105.5h1M310 105.5h1M315 105.5h4M321 105.5h1M326 105.5h1M329 105.5h1M331 105.5h5M434 105.5h1M436 105.5h1M440 105.5h5M456 105.5h1M458 105.5h1M461 105.5h1M465 105.5h2M471 105.5h2M475 105.5h1M478 105.5h1M300 106.5h1M314 106.5h1M317 106.5h2M321 106.5h1M326 106.5h1M329 106.5h1M331 106.5h3M414 106.5h1M423 106.5h1M435 106.5h2M438 106.5h2M448 106.5h1M454 106.5h3M459 106.5h2M463 106.5h3M471 106.5h2M474 106.5h1M296 107.5h1M300 107.5h1M311 107.5h1M315 107.5h2M319 107.5h1M321 107.5h1M324 107.5h1M326 107.5h1M332 107.5h2M354 107.5h2M439 107.5h2M446 107.5h1M454 107.5h2M459 107.5h1M461 107.5h2M465 107.5h1M467 107.5h1M473 107.5h1M476 107.5h1M296 108.5h1M298 108.5h1M309 108.5h1M311 108.5h2M320 108.5h1M328 108.5h2M331 108.5h1M335 108.5h1M353 108.5h2M356 108.5h1M431 108.5h1M435 108.5h1M440 108.5h1M442 108.5h1M445 108.5h1M451 108.5h1M453 108.5h1M456 108.5h1M461 108.5h1M464 108.5h1M472 108.5h4M477 108.5h1M307 109.5h2M311 109.5h1M313 109.5h1M315 109.5h1M321 109.5h1M325 109.5h1M337 109.5h1M354 109.5h2M357 109.5h1M432 109.5h1M434 109.5h2M437 109.5h4M451 109.5h3M458 109.5h3M462 109.5h1M464 109.5h1M470 109.5h1M473 109.5h3M477 109.5h1M307 110.5h1M309 110.5h6M317 110.5h2M320 110.5h2M327 110.5h2M331 110.5h1M354 110.5h1M435 110.5h1M437 110.5h2M443 110.5h1M448 110.5h1M450 110.5h1M455 110.5h2M462 110.5h3M472 110.5h1M474 110.5h4M302 111.5h3M307 111.5h1M310 111.5h3M314 111.5h1M317 111.5h3M325 111.5h1M328 111.5h4M333 111.5h1M341 111.5h1M419 111.5h1M426 111.5h1M435 111.5h1M441 111.5h6M448 111.5h1M451 111.5h3M461 111.5h1M467 111.5h1M469 111.5h2M475 111.5h1M297 112.5h1M311 112.5h1M315 112.5h2M319 112.5h2M324 112.5h1M333 112.5h1M335 112.5h2M338 112.5h1M355 112.5h1M412 112.5h1M414 112.5h2M426 112.5h1M430 112.5h1M438 112.5h1M443 112.5h1M449 112.5h1M453 112.5h1M455 112.5h1M459 112.5h1M461 112.5h2M464 112.5h1M466 112.5h1M470 112.5h1M295 113.5h2M303 113.5h2M306 113.5h1M312 113.5h1M316 113.5h2M320 113.5h1M324 113.5h1M326 113.5h1M329 113.5h2M333 113.5h1M339 113.5h1M356 113.5h1M412 113.5h1M415 113.5h2M418 113.5h1M432 113.5h1M434 113.5h1M437 113.5h1M442 113.5h1M445 113.5h3M452 113.5h1M454 113.5h2M458 113.5h1M461 113.5h1M464 113.5h1M467 113.5h2M296 114.5h1M300 114.5h1M302 114.5h1M304 114.5h1M306 114.5h1M308 114.5h1M310 114.5h1M312 114.5h1M315 114.5h4M333 114.5h1M336 114.5h1M339 114.5h1M341 114.5h1M353 114.5h1M356 114.5h1M414 114.5h1M418 114.5h1M423 114.5h1M431 114.5h3M436 114.5h2M439 114.5h2M442 114.5h2M447 114.5h1M451 114.5h2M454 114.5h1M464 114.5h1M466 114.5h1M472 114.5h2M475 114.5h1M295 115.5h1M300 115.5h2M303 115.5h3M307 115.5h5M313 115.5h3M319 115.5h1M327 115.5h1M329 115.5h3M335 115.5h2M339 115.5h1M414 115.5h3M419 115.5h1M426 115.5h3M437 115.5h3M451 115.5h4M461 115.5h2M465 115.5h1M470 115.5h3M476 115.5h2M295 154.5h1M297 154.5h1M299 154.5h2M304 154.5h1M309 154.5h2M313 154.5h3M320 154.5h1M323 154.5h1M333 154.5h1M422 154.5h1M428 154.5h1M296 155.5h1M298 155.5h4M305 155.5h1M308 155.5h1M312 155.5h2M316 155.5h1M320 155.5h2M326 155.5h1M329 155.5h1M412 155.5h1M420 155.5h2M424 155.5h1M427 155.5h2M435 155.5h1M445 155.5h2M451 155.5h1M295 156.5h1M297 156.5h1M303 156.5h1M308 156.5h1M310 156.5h2M323 156.5h2M327 156.5h1M329 156.5h3M414 156.5h1M418 156.5h3M422 156.5h2M425 156.5h1M431 156.5h1M435 156.5h1M439 156.5h1M441 156.5h1M443 156.5h1M445 156.5h1M448 156.5h1M456 156.5h1M296 157.5h1M299 157.5h1M301 157.5h1M306 157.5h1M308 157.5h1M311 157.5h1M313 157.5h1M315 157.5h1M317 157.5h1M320 157.5h1M322 157.5h1M324 157.5h2M329 157.5h1M331 157.5h2M334 157.5h1M415 157.5h1M417 157.5h2M420 157.5h3M425 157.5h2M428 157.5h1M430 157.5h2M433 157.5h1M439 157.5h3M443 157.5h1M449 157.5h3M456 157.5h1M458 157.5h1M460 157.5h1M462 157.5h1M296 158.5h1M299 158.5h1M307 158.5h1M313 158.5h1M316 158.5h1M318 158.5h1M328 158.5h1M330 158.5h2M415 158.5h1M418 158.5h2M423 158.5h1M425 158.5h3M434 158.5h3M438 158.5h1M440 158.5h1M443 158.5h1M445 158.5h1M450 158.5h1M457 158.5h1M459 158.5h1M464 158.5h1M468 158.5h1M311 159.5h1M314 159.5h1M326 159.5h1M332 159.5h1M334 159.5h1M417 159.5h1M423 159.5h1M425 159.5h2M430 159.5h1M436 159.5h2M440 159.5h1M444 159.5h1M446 159.5h1M448 159.5h1M451 159.5h1M463 159.5h2M301 160.5h1M310 160.5h1M315 160.5h1M321 160.5h2M332 160.5h1M334 160.5h1M342 160.5h1M345 160.5h1M347 160.5h3M412 160.5h2M415 160.5h1M418 160.5h1M423 160.5h1M425 160.5h1M430 160.5h2M437 160.5h2M440 160.5h1M447 160.5h3M452 160.5h2M456 160.5h2M461 160.5h1M465 160.5h1M470 160.5h1M298 161.5h1M304 161.5h1M306 161.5h1M323 161.5h2M327 161.5h1M333 161.5h1M341 161.5h1M343 161.5h1M347 161.5h2M351 161.5h1M413 161.5h1M425 161.5h1M437 161.5h1M448 161.5h1M450 161.5h1M452 161.5h2M459 161.5h2M462 161.5h2M467 161.5h1M470 161.5h2M322 162.5h1M329 162.5h1M333 162.5h1M335 162.5h2M338 162.5h1M340 162.5h2M344 162.5h1M348 162.5h1M350 162.5h2M450 162.5h1M452 162.5h2M455 162.5h2M461 162.5h5M467 162.5h3M473 162.5h1M338 163.5h2M341 163.5h2M344 163.5h1M352 163.5h2M463 163.5h2M467 163.5h1M469 163.5h1M333 164.5h3M337 164.5h2M340 164.5h1M350 164.5h5M447 164.5h1M449 164.5h1M452 164.5h1M457 164.5h1M459 164.5h1M461 164.5h1M464 164.5h1M468 164.5h2M473 164.5h2M476 164.5h1M333 165.5h1M336 165.5h2M339 165.5h1M343 165.5h1M352 165.5h1M355 165.5h1M447 165.5h1M449 165.5h1M451 165.5h1M454 165.5h2M476 165.5h1M353 166.5h1M357 166.5h1M452 166.5h2M460 166.5h1M465 166.5h2M470 166.5h2M473 166.5h2M476 166.5h1M480 166.5h1M332 167.5h1M351 167.5h1M455 167.5h1M458 167.5h1M463 167.5h1M465 167.5h2M468 167.5h1M474 167.5h1M476 167.5h1M482 167.5h1M334 168.5h1M336 168.5h1M341 168.5h1M354 168.5h1M356 168.5h1M358 168.5h1M454 168.5h1M456 168.5h1M458 168.5h3M465 168.5h1M467 168.5h3M471 168.5h3M475 168.5h1M480 168.5h1M334 169.5h3M347 169.5h1M356 169.5h2M454 169.5h1M456 169.5h1M463 169.5h2M466 169.5h1M468 169.5h3M476 169.5h1M478 169.5h2M482 169.5h1M485 169.5h1M341 170.5h1M354 170.5h1M356 170.5h1M451 170.5h1M454 170.5h2M457 170.5h1M464 170.5h1M467 170.5h1M469 170.5h1M473 170.5h1M475 170.5h1M477 170.5h2M480 170.5h4M485 170.5h1M335 171.5h1M354 171.5h1M455 171.5h2M464 171.5h1M467 171.5h1M470 171.5h1M473 171.5h1M475 171.5h1M478 171.5h1M481 171.5h1M485 171.5h1M335 172.5h1M354 172.5h3M450 172.5h1M459 172.5h1M462 172.5h1M472 172.5h3M476 172.5h1M480 172.5h2M484 172.5h1M486 172.5h1M332 173.5h1M347 173.5h1M447 173.5h1M450 173.5h1M455 173.5h1M459 173.5h3M465 173.5h2M468 173.5h1M473 173.5h1M476 173.5h4M343 174.5h1M358 174.5h1M448 174.5h1M453 174.5h1M457 174.5h1M463 174.5h1M470 174.5h1M474 174.5h6M334 175.5h1M341 175.5h1M356 175.5h2M447 175.5h1M449 175.5h2M452 175.5h1M457 175.5h1M462 175.5h1M470 175.5h1M473 175.5h1M475 175.5h1M478 175.5h4M483 175.5h1M331 176.5h1M334 176.5h1M336 176.5h1M338 176.5h2M353 176.5h4M358 176.5h1M417 176.5h1M420 176.5h2M427 176.5h1M435 176.5h1M455 176.5h1M461 176.5h3M466 176.5h1M468 176.5h1M472 176.5h2M476 176.5h1M478 176.5h1M482 176.5h4M295 177.5h1M330 177.5h1M335 177.5h1M338 177.5h1M344 177.5h1M350 177.5h1M412 177.5h1M419 177.5h2M422 177.5h1M430 177.5h1M432 177.5h2M436 177.5h1M441 177.5h1M445 177.5h1M447 177.5h1M452 177.5h1M482 177.5h1M304 178.5h1M327 178.5h1M340 178.5h1M352 178.5h2M356 178.5h1M412 178.5h1M416 178.5h7M431 178.5h2M435 178.5h1M449 178.5h1M451 178.5h1M454 178.5h1M456 178.5h1M459 178.5h1M465 178.5h2M469 178.5h2M472 178.5h1M475 178.5h1M477 178.5h10M295 179.5h1M300 179.5h1M315 179.5h2M324 179.5h1M333 179.5h2M336 179.5h1M341 179.5h1M348 179.5h1M350 179.5h2M412 179.5h2M415 179.5h1M417 179.5h1M421 179.5h1M423 179.5h3M428 179.5h1M432 179.5h2M438 179.5h1M442 179.5h1M447 179.5h1M450 179.5h1M454 179.5h3M458 179.5h1M460 179.5h4M468 179.5h1M470 179.5h1M477 179.5h3M481 179.5h3M295 180.5h1M304 180.5h3M308 180.5h1M310 180.5h1M317 180.5h1M320 180.5h1M322 180.5h2M331 180.5h3M335 180.5h1M339 180.5h1M343 180.5h1M346 180.5h2M349 180.5h1M351 180.5h2M358 180.5h1M413 180.5h5M424 180.5h1M426 180.5h1M431 180.5h2M445 180.5h1M449 180.5h1M451 180.5h1M455 180.5h2M458 180.5h1M465 180.5h1M469 180.5h1M472 180.5h1M476 180.5h1M478 180.5h1M481 180.5h1M484 180.5h2M487 180.5h1M297 181.5h1M301 181.5h1M303 181.5h1M305 181.5h1M310 181.5h1M318 181.5h1M320 181.5h1M324 181.5h2M327 181.5h2M330 181.5h3M335 181.5h1M337 181.5h2M341 181.5h2M346 181.5h1M359 181.5h1M412 181.5h1M414 181.5h1M424 181.5h1M426 181.5h2M430 181.5h3M435 181.5h2M438 181.5h2M442 181.5h4M449 181.5h1M456 181.5h1M461 181.5h1M464 181.5h2M472 181.5h1M474 181.5h1M476 181.5h1M478 181.5h1M484 181.5h1M490 181.5h1M297 182.5h1M306 182.5h1M314 182.5h1M316 182.5h2M321 182.5h1M323 182.5h1M325 182.5h2M336 182.5h1M343 182.5h1M345 182.5h1M347 182.5h1M349 182.5h2M353 182.5h2M356 182.5h1M416 182.5h1M420 182.5h1M426 182.5h1M431 182.5h1M436 182.5h2M439 182.5h1M444 182.5h1M446 182.5h1M459 182.5h2M463 182.5h2M466 182.5h1M470 182.5h1M472 182.5h4M478 182.5h1M296 183.5h1M303 183.5h1M310 183.5h4M315 183.5h1M320 183.5h1M322 183.5h2M326 183.5h1M331 183.5h1M333 183.5h1M337 183.5h1M339 183.5h1M341 183.5h1M343 183.5h2M347 183.5h2M350 183.5h1M356 183.5h1M418 183.5h1M423 183.5h2M426 183.5h1M430 183.5h2M436 183.5h1M439 183.5h1M441 183.5h1M447 183.5h1M455 183.5h1M458 183.5h1M460 183.5h1M463 183.5h1M468 183.5h1M474 183.5h2M478 183.5h1M482 183.5h1M297 184.5h1M302 184.5h2M308 184.5h1M310 184.5h1M312 184.5h1M319 184.5h1M321 184.5h1M328 184.5h1M333 184.5h1M335 184.5h3M343 184.5h1M347 184.5h3M354 184.5h3M358 184.5h1M424 184.5h2M427 184.5h2M432 184.5h1M437 184.5h1M439 184.5h1M441 184.5h2M458 184.5h2M467 184.5h1M469 184.5h1M471 184.5h1M474 184.5h1M476 184.5h2M479 184.5h1M481 184.5h1M295 185.5h1M299 185.5h1M305 185.5h1M315 185.5h1M320 185.5h1M322 185.5h2M325 185.5h4M330 185.5h1M332 185.5h4M338 185.5h1M340 185.5h1M342 185.5h1M345 185.5h2M350 185.5h4M358 185.5h1M414 185.5h1M429 185.5h1M442 185.5h2M450 185.5h3M456 185.5h3M466 185.5h1M468 185.5h1M474 185.5h3M480 185.5h1M295 186.5h2M307 186.5h2M313 186.5h3M318 186.5h1M321 186.5h2M329 186.5h2M343 186.5h1M348 186.5h1M354 186.5h1M356 186.5h1M358 186.5h2M414 186.5h2M423 186.5h1M443 186.5h1M451 186.5h1M463 186.5h1M466 186.5h1M471 186.5h1M475 186.5h1M478 186.5h1M481 186.5h1M487 186.5h2M297 187.5h1M300 187.5h1M333 187.5h1M341 187.5h1M350 187.5h1M423 187.5h1M447 187.5h1M465 187.5h1M469 187.5h1M475 187.5h1M477 187.5h1M482 187.5h1M298 188.5h1M304 188.5h1M312 188.5h2M315 188.5h1M319 188.5h2M330 188.5h1M337 188.5h1M341 188.5h1M344 188.5h1M347 188.5h1M349 188.5h1M351 188.5h1M354 188.5h1M356 188.5h2M444 188.5h1M447 188.5h1M455 188.5h1M473 188.5h1M475 188.5h1M479 188.5h4M295 189.5h1M298 189.5h1M302 189.5h1M304 189.5h2M311 189.5h1M313 189.5h1M315 189.5h2M322 189.5h2M325 189.5h1M336 189.5h2M347 189.5h2M350 189.5h3M357 189.5h1M359 189.5h1M414 189.5h1M417 189.5h1M437 189.5h1M447 189.5h1M462 189.5h3M473 189.5h2M477 189.5h1M479 189.5h1M295 190.5h1M301 190.5h1M303 190.5h2M307 190.5h1M314 190.5h4M319 190.5h3M324 190.5h1M329 190.5h3M343 190.5h1M346 190.5h1M348 190.5h1M359 190.5h2M423 190.5h1M453 190.5h1M459 190.5h1M463 190.5h3M468 190.5h1M472 190.5h3M478 190.5h1M480 190.5h1M305 191.5h4M310 191.5h1M316 191.5h1M319 191.5h2M327 191.5h2M331 191.5h1M335 191.5h1M342 191.5h1M349 191.5h1M352 191.5h2M355 191.5h1M358 191.5h1M360 191.5h1M421 191.5h1M427 191.5h1M436 191.5h1M439 191.5h1M453 191.5h1M456 191.5h2M466 191.5h2M473 191.5h1M475 191.5h1M480 191.5h1M296 192.5h1M314 192.5h1M316 192.5h2M319 192.5h2M322 192.5h1M327 192.5h1M336 192.5h1M339 192.5h1M345 192.5h1M417 192.5h1M432 192.5h1M434 192.5h1M440 192.5h1M449 192.5h1M451 192.5h1M459 192.5h1M462 192.5h1M467 192.5h3M474 192.5h1M477 192.5h2M480 192.5h1M308 193.5h1M312 193.5h1M326 193.5h2M333 193.5h1M356 193.5h1M358 193.5h2M417 193.5h1M454 193.5h1M457 193.5h1M463 193.5h1M466 193.5h1M468 193.5h1M470 193.5h1M472 193.5h1M479 193.5h1M298 194.5h1M305 194.5h2M311 194.5h2M319 194.5h2M324 194.5h1M333 194.5h1M354 194.5h2M358 194.5h3M423 194.5h1M440 194.5h1M444 194.5h1M450 194.5h1M452 194.5h1M455 194.5h1M457 194.5h1M467 194.5h2M470 194.5h1M472 194.5h2M476 194.5h1M479 194.5h1M298 195.5h1M300 195.5h1M309 195.5h1M314 195.5h1M323 195.5h1M325 195.5h1M329 195.5h1M332 195.5h2M337 195.5h1M355 195.5h4M455 195.5h1M458 195.5h1M462 195.5h1M464 195.5h2M467 195.5h1M470 195.5h1M472 195.5h1M475 195.5h1M479 195.5h4M299 196.5h1M301 196.5h2M313 196.5h2M318 196.5h1M324 196.5h1M326 196.5h1M331 196.5h1M336 196.5h1M338 196.5h4M355 196.5h2M358 196.5h3M445 196.5h1M455 196.5h3M459 196.5h3M469 196.5h1M474 196.5h1M476 196.5h5M295 197.5h2M298 197.5h1M300 197.5h2M304 197.5h2M323 197.5h2M326 197.5h3M333 197.5h1M336 197.5h1M338 197.5h1M358 197.5h1M447 197.5h1M455 197.5h2M463 197.5h2M467 197.5h2M472 197.5h1M474 197.5h1M476 197.5h1M480 197.5h1M296 198.5h2M300 198.5h2M320 198.5h1M326 198.5h2M330 198.5h3M337 198.5h1M357 198.5h1M360 198.5h1M433 198.5h1M437 198.5h1M456 198.5h1M458 198.5h2M461 198.5h4M466 198.5h2M470 198.5h1M472 198.5h1M476 198.5h1M296 199.5h1M298 199.5h1M303 199.5h1M309 199.5h1M331 199.5h2M334 199.5h1M338 199.5h1M341 199.5h1M355 199.5h1M359 199.5h1M452 199.5h1M457 199.5h2M460 199.5h1M464 199.5h1M473 199.5h2M476 199.5h1M478 199.5h1M480 199.5h1M321 200.5h1M330 200.5h1M335 200.5h1M340 200.5h1M359 200.5h1M454 200.5h1M460 200.5h5M466 200.5h1M473 200.5h1M475 200.5h1M296 201.5h1M315 201.5h1M324 201.5h1M334 201.5h1M447 201.5h1M456 201.5h1M460 201.5h1M467 201.5h1M470 201.5h1M473 201.5h1M477 201.5h1M481 201.5h1M320 202.5h1M328 202.5h1M453 202.5h1M456 202.5h1M463 202.5h1M465 202.5h1M471 202.5h7M480 202.5h2M297 203.5h1M319 203.5h2M329 203.5h1M335 203.5h1M356 203.5h1M360 203.5h1M439 203.5h1M459 203.5h2M462 203.5h2M466 203.5h2M475 203.5h2M479 203.5h1M481 203.5h2M329 204.5h1M358 204.5h1M360 204.5h1M455 204.5h6M462 204.5h2M465 204.5h2M469 204.5h1M472 204.5h2M475 204.5h1M477 204.5h2M331 205.5h1M333 205.5h2M357 205.5h1M455 205.5h3M459 205.5h2M464 205.5h1M466 205.5h1M473 205.5h1M478 205.5h1M326 206.5h1M333 206.5h1M358 206.5h1M452 206.5h5M458 206.5h1M461 206.5h1M463 206.5h3M468 206.5h1M473 206.5h1M475 206.5h3M479 206.5h1M333 207.5h1M359 207.5h1M361 207.5h1M453 207.5h4M458 207.5h1M460 207.5h1M464 207.5h2M467 207.5h2M476 207.5h2M331 208.5h1M333 208.5h1M360 208.5h1M442 208.5h1M449 208.5h1M452 208.5h1M455 208.5h4M460 208.5h3M464 208.5h1M467 208.5h2M470 208.5h2M473 208.5h1M476 208.5h3M331 209.5h1M335 209.5h1M359 209.5h1M446 209.5h1M448 209.5h1M455 209.5h1M457 209.5h3M463 209.5h1M468 209.5h2M472 209.5h4M332 210.5h1M337 210.5h1M358 210.5h1M450 210.5h1M456 210.5h1M458 210.5h2M461 210.5h4M470 210.5h2M473 210.5h1M478 210.5h2M337 211.5h1M358 211.5h1M448 211.5h2M452 211.5h2M456 211.5h1M458 211.5h1M461 211.5h5M467 211.5h1M471 211.5h2M474 211.5h1M358 212.5h1M361 212.5h1M448 212.5h1M450 212.5h1M452 212.5h4M457 212.5h2M461 212.5h1M465 212.5h3M470 212.5h2M474 212.5h2M478 212.5h1M481 212.5h1M336 213.5h1M448 213.5h1M455 213.5h1M457 213.5h2M460 213.5h1M463 213.5h1M467 213.5h2M470 213.5h2M474 213.5h1M476 213.5h1M480 213.5h2M330 214.5h1M359 214.5h1M361 214.5h1M446 214.5h1M454 214.5h1M456 214.5h1M459 214.5h1M464 214.5h2M468 214.5h5M474 214.5h1M476 214.5h1M479 214.5h1M339 215.5h1M358 215.5h2M449 215.5h2M452 215.5h1M461 215.5h6M472 215.5h2M475 215.5h1M479 215.5h1M337 216.5h1M358 216.5h1M456 216.5h1M458 216.5h1M462 216.5h1M465 216.5h1M468 216.5h1M471 216.5h2M475 216.5h4M334 217.5h1M336 217.5h1M339 217.5h1M456 217.5h1M465 217.5h1M468 217.5h1M473 217.5h1M477 217.5h1M479 217.5h1M481 217.5h1M337 218.5h1M357 218.5h1M360 218.5h1M449 218.5h1M453 218.5h1M456 218.5h1M458 218.5h1M462 218.5h1M464 218.5h3M471 218.5h1M473 218.5h1M477 218.5h1M479 218.5h1M337 219.5h1M360 219.5h1M449 219.5h1M456 219.5h1M459 219.5h1M463 219.5h1M466 219.5h1M468 219.5h1M473 219.5h2M478 219.5h1M480 219.5h1M357 220.5h2M445 220.5h1M450 220.5h2M455 220.5h1M460 220.5h1M462 220.5h2M468 220.5h1M471 220.5h1M475 220.5h1M477 220.5h2M480 220.5h1M332 221.5h1M361 221.5h1M447 221.5h1M454 221.5h1M462 221.5h2M465 221.5h2M468 221.5h1M472 221.5h1M474 221.5h1M478 221.5h2M453 222.5h1M455 222.5h4M469 222.5h1M474 222.5h1M476 222.5h2M360 223.5h1M447 223.5h3M455 223.5h3M461 223.5h3M465 223.5h2M469 223.5h1M472 223.5h2M475 223.5h1M477 223.5h4M332 224.5h1M360 224.5h1M450 224.5h2M456 224.5h1M458 224.5h1M461 224.5h1M466 224.5h1M468 224.5h1M472 224.5h1M474 224.5h2M331 225.5h1M337 225.5h1M341 225.5h1M360 225.5h1M438 225.5h1M448 225.5h2M455 225.5h1M466 225.5h3M473 225.5h1M475 225.5h1M477 225.5h1M480 225.5h1M331 226.5h1M334 226.5h2M338 226.5h2M356 226.5h1M358 226.5h1M436 226.5h1M442 226.5h1M452 226.5h1M456 226.5h1M459 226.5h2M463 226.5h1M465 226.5h1M468 226.5h6M478 226.5h2M323 227.5h1M331 227.5h1M352 227.5h1M357 227.5h3M438 227.5h1M450 227.5h1M455 227.5h2M459 227.5h1M462 227.5h1M465 227.5h1M470 227.5h5M476 227.5h1M479 227.5h1M482 227.5h1" stroke="#c4c4c4" stroke-width="1" fill="none"/><path d="M443 41.5h1M456 41.5h1M464 41.5h1M443 42.5h1M445 42.5h1M450 42.5h6M457 42.5h1M459 42.5h3M463 42.5h3M469 42.5h4M351 43.5h1M442 43.5h2M445 43.5h1M447 43.5h2M451 43.5h1M457 43.5h4M466 43.5h2M470 43.5h1M333 44.5h1M335 44.5h1M338 44.5h1M343 44.5h1M351 44.5h1M355 44.5h1M417 44.5h1M425 44.5h1M437 44.5h1M448 44.5h1M450 44.5h1M452 44.5h1M455 44.5h1M464 44.5h1M468 44.5h2M472 44.5h1M476 44.5h1M330 45.5h3M337 45.5h3M344 45.5h1M349 45.5h2M353 45.5h2M356 45.5h1M417 45.5h1M419 45.5h2M422 45.5h1M424 45.5h1M433 45.5h1M435 45.5h1M438 45.5h1M440 45.5h1M446 45.5h1M462 45.5h2M475 45.5h1M327 46.5h1M330 46.5h2M337 46.5h2M352 46.5h1M356 46.5h1M413 46.5h4M422 46.5h1M426 46.5h1M433 46.5h1M445 46.5h1M313 47.5h1M315 47.5h1M323 47.5h2M326 47.5h1M339 47.5h1M353 47.5h1M357 47.5h2M423 47.5h1M425 47.5h3M434 47.5h1M441 47.5h1M299 48.5h1M305 48.5h1M308 48.5h1M311 48.5h1M316 48.5h1M319 48.5h3M326 48.5h2M333 48.5h1M343 48.5h1M356 48.5h2M422 48.5h1M428 48.5h2M475 48.5h1M298 49.5h2M301 49.5h1M305 49.5h2M309 49.5h3M314 49.5h1M316 49.5h1M321 49.5h2M324 49.5h1M329 49.5h1M419 49.5h1M429 49.5h1M432 49.5h4M474 49.5h1M477 49.5h2M296 50.5h3M305 50.5h1M309 50.5h1M313 50.5h1M316 50.5h1M318 50.5h1M323 50.5h1M325 50.5h1M414 50.5h2M420 50.5h1M429 50.5h4M434 50.5h1M453 50.5h1M476 50.5h1M295 51.5h1M298 51.5h1M302 51.5h1M307 51.5h2M312 51.5h1M315 51.5h3M359 51.5h2M414 51.5h1M431 51.5h2M435 51.5h1M437 51.5h1M475 51.5h2M298 52.5h2M303 52.5h2M309 52.5h2M312 52.5h2M316 52.5h1M319 52.5h1M324 52.5h1M358 52.5h1M416 52.5h1M420 52.5h1M422 52.5h1M424 52.5h1M478 52.5h1M303 53.5h3M307 53.5h2M317 53.5h1M320 53.5h1M323 53.5h1M325 53.5h1M357 53.5h1M422 53.5h5M430 53.5h2M433 53.5h1M298 54.5h1M300 54.5h1M302 54.5h2M306 54.5h3M311 54.5h1M314 54.5h1M317 54.5h2M323 54.5h1M356 54.5h1M419 54.5h1M425 54.5h1M431 54.5h1M433 54.5h1M437 54.5h1M474 54.5h3M297 55.5h1M300 55.5h4M311 55.5h1M314 55.5h1M317 55.5h1M321 55.5h2M355 55.5h1M357 55.5h1M432 55.5h1M434 55.5h1M436 55.5h1M475 55.5h1M295 56.5h1M297 56.5h2M301 56.5h1M304 56.5h1M307 56.5h1M309 56.5h2M312 56.5h1M316 56.5h1M318 56.5h1M321 56.5h2M324 56.5h2M327 56.5h1M356 56.5h1M413 56.5h1M415 56.5h1M432 56.5h2M295 57.5h3M300 57.5h1M302 57.5h2M305 57.5h2M308 57.5h1M314 57.5h3M318 57.5h2M321 57.5h2M324 57.5h1M328 57.5h1M356 57.5h1M413 57.5h1M421 57.5h1M423 57.5h1M428 57.5h1M475 57.5h1M295 58.5h1M301 58.5h2M310 58.5h2M314 58.5h2M321 58.5h1M323 58.5h2M326 58.5h1M412 58.5h1M416 58.5h1M418 58.5h1M422 58.5h3M427 58.5h4M432 58.5h2M435 58.5h1M474 58.5h1M296 59.5h1M300 59.5h1M302 59.5h1M304 59.5h1M307 59.5h2M315 59.5h1M317 59.5h2M324 59.5h1M327 59.5h1M355 59.5h1M414 59.5h2M419 59.5h1M423 59.5h9M433 59.5h1M435 59.5h1M471 59.5h1M295 60.5h2M298 60.5h2M302 60.5h1M304 60.5h1M308 60.5h1M318 60.5h1M323 60.5h1M353 60.5h1M356 60.5h1M412 60.5h3M417 60.5h1M421 60.5h1M425 60.5h2M429 60.5h1M434 60.5h2M471 60.5h1M477 60.5h1M296 61.5h1M298 61.5h1M305 61.5h1M310 61.5h1M319 61.5h1M322 61.5h2M412 61.5h1M415 61.5h3M419 61.5h1M421 61.5h2M428 61.5h1M435 61.5h1M469 61.5h3M305 62.5h1M308 62.5h1M312 62.5h2M315 62.5h1M323 62.5h1M330 62.5h1M412 62.5h1M417 62.5h1M419 62.5h3M424 62.5h1M426 62.5h2M429 62.5h1M432 62.5h3M469 62.5h1M477 62.5h1M307 63.5h1M310 63.5h1M316 63.5h1M324 63.5h1M412 63.5h1M417 63.5h1M419 63.5h5M426 63.5h3M433 63.5h1M435 63.5h2M467 63.5h5M473 63.5h1M296 64.5h2M303 64.5h1M306 64.5h1M312 64.5h1M314 64.5h1M317 64.5h1M324 64.5h1M327 64.5h1M329 64.5h1M335 64.5h1M417 64.5h1M419 64.5h1M422 64.5h1M424 64.5h3M429 64.5h1M433 64.5h1M470 64.5h1M472 64.5h1M298 65.5h1M300 65.5h1M302 65.5h2M306 65.5h1M308 65.5h1M310 65.5h1M317 65.5h1M320 65.5h1M328 65.5h1M351 65.5h1M414 65.5h1M418 65.5h2M424 65.5h1M428 65.5h2M468 65.5h1M471 65.5h2M297 66.5h2M300 66.5h1M303 66.5h1M305 66.5h1M308 66.5h1M311 66.5h1M314 66.5h2M318 66.5h1M320 66.5h1M330 66.5h1M334 66.5h1M350 66.5h2M415 66.5h1M417 66.5h1M419 66.5h2M422 66.5h2M427 66.5h2M431 66.5h1M434 66.5h1M436 66.5h1M468 66.5h1M471 66.5h1M298 67.5h1M303 67.5h1M305 67.5h3M312 67.5h2M316 67.5h1M318 67.5h2M328 67.5h1M331 67.5h1M336 67.5h1M349 67.5h2M412 67.5h1M414 67.5h1M418 67.5h1M424 67.5h3M429 67.5h1M432 67.5h1M434 67.5h1M468 67.5h1M470 67.5h1M295 68.5h1M298 68.5h1M300 68.5h1M302 68.5h4M310 68.5h1M314 68.5h4M322 68.5h1M324 68.5h1M328 68.5h1M331 68.5h1M412 68.5h1M414 68.5h1M416 68.5h2M423 68.5h3M427 68.5h2M432 68.5h1M434 68.5h2M470 68.5h1M296 69.5h2M300 69.5h1M302 69.5h1M307 69.5h1M309 69.5h1M313 69.5h1M316 69.5h1M320 69.5h1M322 69.5h1M355 69.5h1M415 69.5h2M418 69.5h3M422 69.5h1M426 69.5h2M429 69.5h4M434 69.5h2M467 69.5h3M295 70.5h2M303 70.5h1M309 70.5h4M316 70.5h2M321 70.5h1M323 70.5h1M325 70.5h1M339 70.5h1M350 70.5h1M353 70.5h1M355 70.5h1M414 70.5h2M417 70.5h1M419 70.5h1M425 70.5h2M428 70.5h2M434 70.5h1M436 70.5h3M443 70.5h1M467 70.5h3M296 71.5h3M300 71.5h2M303 71.5h1M311 71.5h1M314 71.5h1M317 71.5h1M322 71.5h1M328 71.5h2M353 71.5h1M413 71.5h1M419 71.5h6M426 71.5h1M428 71.5h1M431 71.5h3M439 71.5h2M443 71.5h1M445 71.5h2M448 71.5h1M466 71.5h2M469 71.5h1M296 72.5h1M299 72.5h1M302 72.5h2M310 72.5h1M313 72.5h1M315 72.5h3M319 72.5h2M327 72.5h1M332 72.5h1M338 72.5h1M352 72.5h1M354 72.5h1M419 72.5h1M421 72.5h1M429 72.5h2M434 72.5h2M441 72.5h6M450 72.5h1M467 72.5h1M473 72.5h1M299 73.5h1M304 73.5h1M309 73.5h1M311 73.5h2M316 73.5h2M321 73.5h1M325 73.5h1M336 73.5h2M422 73.5h1M428 73.5h1M431 73.5h1M433 73.5h1M436 73.5h1M441 73.5h1M446 73.5h1M449 73.5h2M461 73.5h1M463 73.5h2M468 73.5h1M473 73.5h1M475 73.5h1M295 74.5h3M299 74.5h1M301 74.5h3M309 74.5h1M316 74.5h2M319 74.5h2M325 74.5h1M329 74.5h1M353 74.5h3M415 74.5h1M420 74.5h1M425 74.5h1M427 74.5h1M431 74.5h2M438 74.5h1M446 74.5h1M448 74.5h3M452 74.5h1M467 74.5h1M298 75.5h1M302 75.5h1M306 75.5h3M317 75.5h1M320 75.5h2M325 75.5h1M328 75.5h1M336 75.5h1M355 75.5h1M420 75.5h1M425 75.5h1M427 75.5h1M429 75.5h1M438 75.5h1M448 75.5h1M450 75.5h1M454 75.5h1M457 75.5h1M465 75.5h2M469 75.5h2M300 76.5h2M307 76.5h5M318 76.5h1M321 76.5h1M327 76.5h2M332 76.5h2M341 76.5h1M353 76.5h1M419 76.5h1M437 76.5h1M443 76.5h1M449 76.5h1M464 76.5h1M474 76.5h1M300 77.5h2M308 77.5h1M314 77.5h1M318 77.5h2M326 77.5h3M338 77.5h1M353 77.5h2M437 77.5h1M439 77.5h1M441 77.5h1M445 77.5h2M448 77.5h1M456 77.5h1M459 77.5h1M464 77.5h3M473 77.5h2M310 78.5h1M318 78.5h1M326 78.5h3M330 78.5h2M333 78.5h1M336 78.5h1M354 78.5h3M414 78.5h1M429 78.5h1M445 78.5h1M449 78.5h1M459 78.5h4M464 78.5h2M474 78.5h1M296 79.5h1M298 79.5h1M301 79.5h1M304 79.5h1M309 79.5h1M327 79.5h2M335 79.5h1M338 79.5h1M354 79.5h1M417 79.5h2M431 79.5h1M433 79.5h1M442 79.5h1M444 79.5h1M450 79.5h2M453 79.5h1M459 79.5h1M461 79.5h1M465 79.5h1M467 79.5h2M474 79.5h1M301 80.5h1M319 80.5h2M325 80.5h1M329 80.5h2M436 80.5h1M438 80.5h2M445 80.5h1M449 80.5h4M456 80.5h1M460 80.5h1M462 80.5h2M465 80.5h4M471 80.5h1M474 80.5h1M476 80.5h1M307 81.5h1M313 81.5h1M326 81.5h1M328 81.5h4M337 81.5h1M339 81.5h1M354 81.5h1M417 81.5h2M431 81.5h2M437 81.5h1M442 81.5h1M444 81.5h2M452 81.5h2M458 81.5h2M462 81.5h1M464 81.5h2M469 81.5h4M474 81.5h1M297 82.5h1M316 82.5h1M324 82.5h1M327 82.5h1M330 82.5h1M333 82.5h1M335 82.5h1M339 82.5h1M341 82.5h1M354 82.5h1M413 82.5h1M425 82.5h1M432 82.5h1M437 82.5h1M440 82.5h1M442 82.5h1M444 82.5h4M449 82.5h1M455 82.5h1M460 82.5h1M462 82.5h2M465 82.5h3M469 82.5h1M299 83.5h1M318 83.5h1M323 83.5h2M328 83.5h1M331 83.5h2M335 83.5h1M337 83.5h1M339 83.5h1M353 83.5h1M412 83.5h1M419 83.5h2M433 83.5h1M437 83.5h1M445 83.5h4M451 83.5h1M456 83.5h1M459 83.5h4M464 83.5h1M471 83.5h1M473 83.5h3M299 84.5h1M302 84.5h1M318 84.5h1M324 84.5h1M326 84.5h2M330 84.5h2M336 84.5h1M338 84.5h1M349 84.5h1M355 84.5h2M425 84.5h1M433 84.5h1M435 84.5h3M441 84.5h2M444 84.5h1M447 84.5h1M452 84.5h1M454 84.5h2M457 84.5h1M461 84.5h2M464 84.5h4M469 84.5h3M476 84.5h1M296 85.5h1M323 85.5h2M326 85.5h3M331 85.5h1M333 85.5h1M335 85.5h2M338 85.5h1M352 85.5h1M354 85.5h1M425 85.5h1M433 85.5h1M437 85.5h2M440 85.5h1M442 85.5h3M448 85.5h2M451 85.5h1M454 85.5h3M463 85.5h1M470 85.5h2M478 85.5h1M298 86.5h1M300 86.5h1M312 86.5h1M324 86.5h1M326 86.5h1M331 86.5h1M333 86.5h2M337 86.5h1M339 86.5h2M351 86.5h1M354 86.5h2M429 86.5h1M434 86.5h1M439 86.5h3M443 86.5h2M448 86.5h2M452 86.5h1M454 86.5h2M457 86.5h1M459 86.5h1M461 86.5h1M464 86.5h1M466 86.5h1M470 86.5h1M472 86.5h1M474 86.5h2M311 87.5h1M326 87.5h1M330 87.5h2M335 87.5h1M337 87.5h1M339 87.5h1M353 87.5h1M419 87.5h1M428 87.5h5M437 87.5h1M440 87.5h2M454 87.5h2M460 87.5h2M463 87.5h3M315 88.5h1M323 88.5h1M333 88.5h1M338 88.5h1M340 88.5h1M351 88.5h3M428 88.5h3M432 88.5h1M434 88.5h1M436 88.5h3M440 88.5h2M444 88.5h1M446 88.5h1M453 88.5h2M457 88.5h2M460 88.5h2M463 88.5h1M466 88.5h1M470 88.5h1M476 88.5h2M311 89.5h2M315 89.5h1M317 89.5h1M320 89.5h1M323 89.5h1M325 89.5h1M328 89.5h4M333 89.5h2M337 89.5h1M340 89.5h1M353 89.5h1M421 89.5h1M429 89.5h1M431 89.5h1M434 89.5h2M439 89.5h2M442 89.5h4M447 89.5h2M450 89.5h1M456 89.5h1M460 89.5h1M463 89.5h1M466 89.5h1M468 89.5h2M473 89.5h1M476 89.5h1M301 90.5h2M315 90.5h1M332 90.5h1M340 90.5h1M412 90.5h1M425 90.5h1M428 90.5h1M430 90.5h1M433 90.5h1M441 90.5h1M443 90.5h1M446 90.5h1M448 90.5h2M451 90.5h2M454 90.5h1M458 90.5h1M465 90.5h1M467 90.5h1M470 90.5h2M315 91.5h2M329 91.5h1M332 91.5h1M351 91.5h1M419 91.5h1M421 91.5h1M424 91.5h1M426 91.5h1M430 91.5h1M433 91.5h2M437 91.5h2M440 91.5h3M444 91.5h2M451 91.5h3M457 91.5h1M460 91.5h2M468 91.5h2M298 92.5h1M308 92.5h1M311 92.5h1M316 92.5h1M320 92.5h1M326 92.5h1M328 92.5h4M333 92.5h2M340 92.5h1M342 92.5h1M353 92.5h1M413 92.5h2M423 92.5h2M429 92.5h4M434 92.5h1M436 92.5h1M438 92.5h1M442 92.5h1M448 92.5h1M450 92.5h1M452 92.5h1M454 92.5h2M458 92.5h3M463 92.5h1M466 92.5h2M477 92.5h1M297 93.5h1M309 93.5h2M314 93.5h1M317 93.5h1M319 93.5h1M322 93.5h1M329 93.5h1M331 93.5h1M333 93.5h2M336 93.5h1M338 93.5h1M341 93.5h1M352 93.5h2M420 93.5h1M422 93.5h1M425 93.5h1M436 93.5h1M439 93.5h2M442 93.5h1M444 93.5h1M446 93.5h1M449 93.5h2M453 93.5h1M461 93.5h1M463 93.5h3M470 93.5h2M476 93.5h1M306 94.5h2M310 94.5h2M317 94.5h1M321 94.5h1M327 94.5h1M330 94.5h1M332 94.5h1M337 94.5h2M341 94.5h1M353 94.5h1M419 94.5h1M421 94.5h2M424 94.5h2M427 94.5h1M429 94.5h2M432 94.5h2M435 94.5h1M437 94.5h2M443 94.5h2M446 94.5h3M450 94.5h1M455 94.5h2M459 94.5h2M462 94.5h1M469 94.5h1M472 94.5h1M476 94.5h1M301 95.5h2M307 95.5h1M313 95.5h1M318 95.5h2M321 95.5h1M329 95.5h1M332 95.5h1M335 95.5h1M337 95.5h2M349 95.5h1M352 95.5h3M415 95.5h1M417 95.5h1M421 95.5h2M424 95.5h2M427 95.5h1M430 95.5h2M437 95.5h3M443 95.5h3M447 95.5h1M450 95.5h1M452 95.5h1M460 95.5h1M462 95.5h2M465 95.5h1M475 95.5h1M309 96.5h1M315 96.5h1M317 96.5h1M319 96.5h1M321 96.5h1M324 96.5h1M327 96.5h1M334 96.5h1M336 96.5h2M339 96.5h1M353 96.5h2M412 96.5h1M418 96.5h3M422 96.5h2M428 96.5h2M432 96.5h2M435 96.5h1M437 96.5h3M441 96.5h1M445 96.5h1M447 96.5h2M457 96.5h1M460 96.5h1M467 96.5h1M473 96.5h2M476 96.5h1M298 97.5h2M302 97.5h1M306 97.5h2M312 97.5h1M314 97.5h2M317 97.5h1M328 97.5h1M340 97.5h1M353 97.5h1M414 97.5h2M423 97.5h1M429 97.5h1M431 97.5h1M433 97.5h2M440 97.5h2M444 97.5h1M447 97.5h1M450 97.5h1M456 97.5h1M460 97.5h1M462 97.5h3M472 97.5h2M476 97.5h2M297 98.5h1M305 98.5h1M308 98.5h1M311 98.5h1M314 98.5h1M318 98.5h1M321 98.5h1M325 98.5h1M330 98.5h3M413 98.5h2M418 98.5h1M423 98.5h3M428 98.5h5M434 98.5h1M437 98.5h1M439 98.5h6M446 98.5h1M449 98.5h1M455 98.5h2M460 98.5h1M462 98.5h4M467 98.5h1M470 98.5h1M473 98.5h1M475 98.5h1M305 99.5h2M309 99.5h1M319 99.5h1M321 99.5h1M323 99.5h2M328 99.5h1M330 99.5h1M332 99.5h2M337 99.5h1M339 99.5h3M351 99.5h4M412 99.5h1M415 99.5h2M419 99.5h1M423 99.5h1M425 99.5h1M427 99.5h1M430 99.5h2M434 99.5h2M439 99.5h1M441 99.5h4M446 99.5h1M449 99.5h1M453 99.5h2M456 99.5h2M460 99.5h2M465 99.5h1M468 99.5h1M471 99.5h1M473 99.5h1M303 100.5h1M305 100.5h3M309 100.5h1M323 100.5h5M332 100.5h1M335 100.5h1M348 100.5h1M414 100.5h1M423 100.5h1M425 100.5h1M433 100.5h2M437 100.5h1M439 100.5h6M456 100.5h1M459 100.5h1M465 100.5h1M467 100.5h1M470 100.5h3M476 100.5h1M295 101.5h2M299 101.5h2M303 101.5h3M307 101.5h1M313 101.5h1M320 101.5h1M324 101.5h1M332 101.5h1M334 101.5h3M339 101.5h3M354 101.5h2M413 101.5h2M418 101.5h1M421 101.5h1M434 101.5h2M437 101.5h3M441 101.5h1M445 101.5h1M451 101.5h1M457 101.5h2M462 101.5h1M464 101.5h2M467 101.5h1M470 101.5h1M473 101.5h1M476 101.5h1M295 102.5h1M298 102.5h2M301 102.5h5M311 102.5h1M313 102.5h1M316 102.5h1M318 102.5h1M321 102.5h2M338 102.5h1M352 102.5h1M354 102.5h1M413 102.5h2M430 102.5h1M432 102.5h1M434 102.5h1M437 102.5h3M441 102.5h1M448 102.5h1M457 102.5h3M464 102.5h1M467 102.5h2M473 102.5h1M295 103.5h1M298 103.5h2M303 103.5h1M306 103.5h1M309 103.5h1M311 103.5h1M318 103.5h1M321 103.5h1M325 103.5h4M331 103.5h1M334 103.5h2M353 103.5h1M414 103.5h1M423 103.5h2M426 103.5h1M428 103.5h2M434 103.5h1M438 103.5h2M441 103.5h1M445 103.5h1M458 103.5h1M462 103.5h1M466 103.5h1M468 103.5h1M470 103.5h2M475 103.5h1M295 104.5h2M307 104.5h1M309 104.5h1M312 104.5h3M318 104.5h3M324 104.5h1M327 104.5h5M335 104.5h1M337 104.5h1M353 104.5h1M412 104.5h2M418 104.5h2M428 104.5h1M436 104.5h2M440 104.5h1M444 104.5h1M449 104.5h3M457 104.5h1M459 104.5h2M466 104.5h1M468 104.5h1M470 104.5h1M475 104.5h1M295 105.5h1M298 105.5h1M306 105.5h1M311 105.5h1M313 105.5h2M320 105.5h1M327 105.5h1M330 105.5h1M336 105.5h4M354 105.5h1M413 105.5h1M422 105.5h1M429 105.5h2M432 105.5h1M435 105.5h1M437 105.5h1M439 105.5h1M451 105.5h3M457 105.5h1M459 105.5h2M462 105.5h1M467 105.5h1M469 105.5h2M476 105.5h2M295 106.5h1M299 106.5h1M301 106.5h2M305 106.5h2M309 106.5h4M315 106.5h2M328 106.5h1M330 106.5h1M334 106.5h7M355 106.5h1M413 106.5h1M420 106.5h1M426 106.5h1M430 106.5h3M434 106.5h1M437 106.5h1M441 106.5h1M444 106.5h1M449 106.5h1M453 106.5h1M458 106.5h1M461 106.5h2M468 106.5h2M473 106.5h1M295 107.5h1M297 107.5h1M299 107.5h1M305 107.5h1M309 107.5h2M312 107.5h2M317 107.5h1M328 107.5h2M337 107.5h2M353 107.5h1M356 107.5h1M412 107.5h2M417 107.5h1M420 107.5h1M422 107.5h1M430 107.5h1M433 107.5h6M441 107.5h1M445 107.5h1M456 107.5h2M463 107.5h2M466 107.5h1M468 107.5h1M470 107.5h3M474 107.5h2M477 107.5h1M297 108.5h1M299 108.5h1M303 108.5h3M313 108.5h1M315 108.5h3M321 108.5h1M332 108.5h2M336 108.5h5M412 108.5h1M427 108.5h1M434 108.5h1M437 108.5h2M441 108.5h1M443 108.5h2M454 108.5h1M457 108.5h2M460 108.5h1M465 108.5h1M467 108.5h3M471 108.5h1M476 108.5h1M297 109.5h1M302 109.5h1M305 109.5h2M310 109.5h1M316 109.5h3M322 109.5h1M333 109.5h1M412 109.5h1M419 109.5h1M421 109.5h1M429 109.5h1M431 109.5h1M433 109.5h1M450 109.5h1M457 109.5h1M465 109.5h4M476 109.5h1M295 110.5h1M299 110.5h1M303 110.5h4M308 110.5h1M315 110.5h1M332 110.5h2M335 110.5h3M339 110.5h1M341 110.5h1M412 110.5h1M419 110.5h2M426 110.5h1M429 110.5h2M449 110.5h1M458 110.5h3M465 110.5h1M467 110.5h1M295 111.5h1M299 111.5h1M301 111.5h1M308 111.5h1M321 111.5h1M334 111.5h4M339 111.5h2M354 111.5h1M420 111.5h1M422 111.5h1M427 111.5h1M431 111.5h1M433 111.5h2M438 111.5h1M450 111.5h1M454 111.5h3M458 111.5h3M466 111.5h1M468 111.5h1M471 111.5h1M473 111.5h1M476 111.5h1M295 112.5h1M300 112.5h1M303 112.5h3M307 112.5h4M317 112.5h1M323 112.5h1M339 112.5h2M351 112.5h1M354 112.5h1M413 112.5h1M421 112.5h2M425 112.5h1M428 112.5h1M431 112.5h1M433 112.5h2M446 112.5h3M451 112.5h2M456 112.5h1M458 112.5h1M460 112.5h1M467 112.5h2M471 112.5h4M476 112.5h1M305 113.5h1M310 113.5h2M321 113.5h2M331 113.5h2M334 113.5h5M340 113.5h1M353 113.5h2M413 113.5h1M422 113.5h1M429 113.5h3M435 113.5h1M439 113.5h3M456 113.5h2M463 113.5h1M466 113.5h1M470 113.5h2M295 114.5h1M298 114.5h1M301 114.5h1M303 114.5h1M305 114.5h1M307 114.5h1M309 114.5h1M311 114.5h1M329 114.5h1M332 114.5h1M340 114.5h1M354 114.5h1M413 114.5h1M420 114.5h3M424 114.5h1M428 114.5h2M434 114.5h1M458 114.5h2M461 114.5h2M469 114.5h3M296 115.5h1M299 115.5h1M302 115.5h1M312 115.5h1M323 115.5h1M333 115.5h2M340 115.5h2M346 115.5h2M352 115.5h1M354 115.5h1M412 115.5h1M417 115.5h1M420 115.5h1M422 115.5h1M430 115.5h1M436 115.5h1M440 115.5h1M458 115.5h2M312 154.5h1M302 155.5h2M306 155.5h2M309 155.5h1M315 155.5h1M317 155.5h2M323 155.5h1M327 155.5h1M331 155.5h1M430 155.5h1M296 156.5h1M298 156.5h5M304 156.5h3M312 156.5h1M315 156.5h2M319 156.5h1M322 156.5h1M325 156.5h2M332 156.5h1M412 156.5h1M416 156.5h1M426 156.5h1M430 156.5h1M434 156.5h1M442 156.5h1M447 156.5h1M449 156.5h3M295 157.5h1M297 157.5h2M302 157.5h2M309 157.5h1M312 157.5h1M316 157.5h1M323 157.5h1M326 157.5h1M328 157.5h1M412 157.5h2M419 157.5h1M427 157.5h1M429 157.5h1M434 157.5h2M442 157.5h1M445 157.5h2M461 157.5h1M297 158.5h1M302 158.5h1M304 158.5h1M306 158.5h1M309 158.5h4M314 158.5h1M317 158.5h1M319 158.5h2M322 158.5h5M334 158.5h1M412 158.5h3M416 158.5h2M420 158.5h1M422 158.5h1M424 158.5h1M428 158.5h1M430 158.5h4M437 158.5h1M444 158.5h1M447 158.5h2M451 158.5h1M460 158.5h1M463 158.5h1M297 159.5h1M299 159.5h4M304 159.5h1M307 159.5h4M312 159.5h1M315 159.5h2M319 159.5h5M328 159.5h2M333 159.5h1M412 159.5h2M415 159.5h1M418 159.5h4M424 159.5h1M427 159.5h2M433 159.5h1M438 159.5h1M441 159.5h3M445 159.5h1M447 159.5h1M453 159.5h1M456 159.5h1M460 159.5h1M468 159.5h1M297 160.5h3M308 160.5h1M313 160.5h2M318 160.5h1M323 160.5h1M326 160.5h1M328 160.5h3M333 160.5h1M414 160.5h1M419 160.5h1M421 160.5h2M424 160.5h1M426 160.5h2M432 160.5h1M436 160.5h1M439 160.5h1M442 160.5h2M445 160.5h2M450 160.5h2M462 160.5h1M295 161.5h1M300 161.5h1M305 161.5h1M309 161.5h1M314 161.5h3M321 161.5h2M328 161.5h1M332 161.5h1M334 161.5h1M342 161.5h1M349 161.5h2M412 161.5h1M414 161.5h4M423 161.5h2M427 161.5h1M430 161.5h1M432 161.5h1M435 161.5h2M438 161.5h3M445 161.5h1M447 161.5h1M449 161.5h1M456 161.5h1M468 161.5h2M295 162.5h1M303 162.5h1M307 162.5h1M309 162.5h1M323 162.5h2M328 162.5h1M334 162.5h1M342 162.5h1M345 162.5h1M353 162.5h1M423 162.5h2M432 162.5h1M437 162.5h1M442 162.5h1M444 162.5h2M449 162.5h1M458 162.5h2M470 162.5h2M333 163.5h1M336 163.5h1M340 163.5h1M343 163.5h1M347 163.5h3M351 163.5h1M447 163.5h1M450 163.5h4M455 163.5h3M465 163.5h1M470 163.5h2M295 164.5h1M339 164.5h1M348 164.5h2M437 164.5h1M446 164.5h1M450 164.5h1M456 164.5h1M458 164.5h1M463 164.5h1M465 164.5h1M467 164.5h1M470 164.5h1M475 164.5h1M331 165.5h1M335 165.5h1M340 165.5h1M345 165.5h1M347 165.5h2M351 165.5h1M439 165.5h1M448 165.5h1M450 165.5h1M452 165.5h2M456 165.5h2M460 165.5h1M463 165.5h3M467 165.5h1M469 165.5h2M473 165.5h3M335 166.5h1M337 166.5h1M343 166.5h1M348 166.5h2M351 166.5h2M355 166.5h1M447 166.5h5M455 166.5h1M457 166.5h1M461 166.5h4M467 166.5h2M475 166.5h1M477 166.5h2M331 167.5h1M333 167.5h2M338 167.5h3M342 167.5h2M345 167.5h1M348 167.5h2M352 167.5h1M448 167.5h1M453 167.5h2M460 167.5h2M464 167.5h1M467 167.5h1M469 167.5h3M475 167.5h1M477 167.5h2M332 168.5h2M335 168.5h1M342 168.5h1M352 168.5h2M447 168.5h1M450 168.5h1M452 168.5h1M462 168.5h3M466 168.5h1M478 168.5h2M482 168.5h1M333 169.5h1M337 169.5h2M340 169.5h1M344 169.5h1M349 169.5h1M354 169.5h2M449 169.5h1M455 169.5h1M458 169.5h3M462 169.5h1M465 169.5h1M471 169.5h3M327 170.5h3M333 170.5h2M340 170.5h1M342 170.5h1M352 170.5h2M450 170.5h1M453 170.5h1M458 170.5h1M460 170.5h1M463 170.5h1M466 170.5h1M468 170.5h1M470 170.5h1M472 170.5h1M474 170.5h1M334 171.5h1M336 171.5h1M340 171.5h1M343 171.5h1M347 171.5h1M355 171.5h1M446 171.5h1M448 171.5h1M451 171.5h1M453 171.5h1M457 171.5h2M461 171.5h2M465 171.5h2M471 171.5h2M474 171.5h1M476 171.5h1M334 172.5h1M336 172.5h1M344 172.5h1M349 172.5h1M357 172.5h2M412 172.5h1M452 172.5h2M456 172.5h1M460 172.5h1M464 172.5h1M468 172.5h2M471 172.5h1M478 172.5h1M333 173.5h2M337 173.5h1M341 173.5h1M343 173.5h1M346 173.5h1M354 173.5h2M412 173.5h1M448 173.5h2M451 173.5h1M453 173.5h1M456 173.5h1M464 173.5h1M469 173.5h1M471 173.5h1M474 173.5h1M480 173.5h1M486 173.5h1M326 174.5h1M333 174.5h1M335 174.5h4M340 174.5h1M345 174.5h2M348 174.5h1M355 174.5h1M428 174.5h1M431 174.5h1M438 174.5h2M450 174.5h3M455 174.5h2M458 174.5h1M460 174.5h1M462 174.5h1M464 174.5h4M471 174.5h3M482 174.5h1M335 175.5h1M343 175.5h1M345 175.5h1M353 175.5h2M413 175.5h1M416 175.5h1M420 175.5h1M427 175.5h1M429 175.5h1M431 175.5h1M434 175.5h2M439 175.5h1M443 175.5h1M446 175.5h1M448 175.5h1M451 175.5h1M454 175.5h1M456 175.5h1M459 175.5h2M463 175.5h1M466 175.5h4M472 175.5h1M477 175.5h1M302 176.5h1M305 176.5h1M323 176.5h1M325 176.5h1M330 176.5h1M340 176.5h1M342 176.5h1M344 176.5h1M346 176.5h1M351 176.5h1M412 176.5h2M415 176.5h1M418 176.5h2M429 176.5h1M433 176.5h2M436 176.5h1M442 176.5h1M446 176.5h2M450 176.5h2M453 176.5h2M456 176.5h2M460 176.5h1M464 176.5h1M474 176.5h1M477 176.5h1M304 177.5h1M307 177.5h1M310 177.5h1M316 177.5h3M324 177.5h2M327 177.5h1M332 177.5h1M334 177.5h1M339 177.5h1M342 177.5h1M345 177.5h1M349 177.5h1M351 177.5h3M413 177.5h2M416 177.5h1M418 177.5h1M424 177.5h4M431 177.5h1M434 177.5h1M437 177.5h2M446 177.5h1M448 177.5h4M454 177.5h1M457 177.5h5M463 177.5h1M466 177.5h3M472 177.5h2M475 177.5h1M479 177.5h1M481 177.5h1M485 177.5h1M295 178.5h2M302 178.5h2M307 178.5h2M314 178.5h1M316 178.5h2M319 178.5h1M322 178.5h1M324 178.5h1M326 178.5h1M329 178.5h1M332 178.5h3M337 178.5h3M343 178.5h3M347 178.5h1M349 178.5h3M424 178.5h2M429 178.5h1M436 178.5h1M439 178.5h8M448 178.5h1M453 178.5h1M455 178.5h1M457 178.5h2M463 178.5h2M467 178.5h2M473 178.5h1M296 179.5h3M305 179.5h1M308 179.5h2M311 179.5h1M314 179.5h1M317 179.5h2M322 179.5h1M326 179.5h3M332 179.5h1M335 179.5h1M337 179.5h3M342 179.5h2M347 179.5h1M418 179.5h3M427 179.5h1M430 179.5h1M435 179.5h3M443 179.5h1M446 179.5h1M448 179.5h1M452 179.5h2M457 179.5h1M469 179.5h1M473 179.5h2M476 179.5h1M296 180.5h1M298 180.5h2M301 180.5h3M307 180.5h1M309 180.5h1M311 180.5h2M316 180.5h1M319 180.5h1M321 180.5h1M326 180.5h1M329 180.5h1M336 180.5h3M341 180.5h1M344 180.5h2M412 180.5h1M420 180.5h3M429 180.5h1M434 180.5h5M442 180.5h1M446 180.5h3M450 180.5h1M452 180.5h1M457 180.5h1M463 180.5h1M466 180.5h3M470 180.5h2M473 180.5h3M482 180.5h1M298 181.5h3M304 181.5h1M306 181.5h1M308 181.5h2M311 181.5h3M315 181.5h1M317 181.5h1M319 181.5h1M322 181.5h2M326 181.5h1M334 181.5h1M340 181.5h1M353 181.5h1M355 181.5h1M413 181.5h1M415 181.5h2M421 181.5h1M423 181.5h1M425 181.5h1M429 181.5h1M433 181.5h1M437 181.5h1M440 181.5h2M446 181.5h3M451 181.5h4M457 181.5h4M463 181.5h1M470 181.5h2M473 181.5h1M295 182.5h1M298 182.5h1M300 182.5h1M303 182.5h3M307 182.5h3M312 182.5h1M315 182.5h1M322 182.5h1M324 182.5h1M331 182.5h1M333 182.5h1M335 182.5h1M338 182.5h1M344 182.5h1M357 182.5h1M413 182.5h3M422 182.5h3M427 182.5h3M432 182.5h1M435 182.5h1M440 182.5h1M443 182.5h1M445 182.5h1M454 182.5h2M458 182.5h1M465 182.5h1M469 182.5h1M471 182.5h1M476 182.5h1M300 183.5h1M307 183.5h3M316 183.5h3M325 183.5h1M327 183.5h4M334 183.5h3M338 183.5h1M345 183.5h1M351 183.5h1M354 183.5h1M357 183.5h1M359 183.5h1M412 183.5h3M416 183.5h1M419 183.5h3M427 183.5h3M434 183.5h2M443 183.5h3M453 183.5h2M456 183.5h2M461 183.5h2M469 183.5h1M476 183.5h1M299 184.5h3M304 184.5h2M307 184.5h1M309 184.5h1M311 184.5h1M313 184.5h2M316 184.5h3M324 184.5h1M326 184.5h1M329 184.5h1M332 184.5h1M334 184.5h1M339 184.5h1M341 184.5h1M344 184.5h3M350 184.5h2M359 184.5h1M414 184.5h2M419 184.5h4M426 184.5h1M429 184.5h2M433 184.5h1M435 184.5h1M438 184.5h1M443 184.5h3M450 184.5h1M453 184.5h1M455 184.5h1M461 184.5h1M463 184.5h1M465 184.5h1M470 184.5h1M475 184.5h1M478 184.5h1M480 184.5h1M298 185.5h1M302 185.5h3M306 185.5h2M310 185.5h1M313 185.5h2M316 185.5h4M321 185.5h1M329 185.5h1M336 185.5h1M339 185.5h1M341 185.5h1M343 185.5h2M348 185.5h1M354 185.5h1M359 185.5h1M415 185.5h1M420 185.5h2M423 185.5h5M432 185.5h1M436 185.5h6M454 185.5h2M459 185.5h3M463 185.5h2M467 185.5h1M470 185.5h1M477 185.5h1M297 186.5h1M300 186.5h2M303 186.5h1M312 186.5h1M316 186.5h1M319 186.5h2M323 186.5h1M325 186.5h1M328 186.5h1M331 186.5h1M333 186.5h2M337 186.5h2M340 186.5h1M342 186.5h1M344 186.5h2M413 186.5h1M416 186.5h1M419 186.5h3M424 186.5h1M434 186.5h1M438 186.5h2M441 186.5h1M447 186.5h1M452 186.5h1M455 186.5h4M460 186.5h1M462 186.5h1M464 186.5h1M469 186.5h1M472 186.5h3M476 186.5h2M479 186.5h2M295 187.5h1M299 187.5h1M301 187.5h2M305 187.5h1M307 187.5h2M311 187.5h3M315 187.5h3M319 187.5h2M323 187.5h1M325 187.5h2M329 187.5h2M334 187.5h2M339 187.5h2M343 187.5h3M348 187.5h1M351 187.5h1M354 187.5h2M357 187.5h1M412 187.5h1M414 187.5h2M419 187.5h1M428 187.5h1M434 187.5h2M443 187.5h1M446 187.5h1M450 187.5h3M455 187.5h1M457 187.5h2M460 187.5h5M466 187.5h1M470 187.5h2M473 187.5h1M476 187.5h1M479 187.5h2M297 188.5h1M299 188.5h5M305 188.5h3M310 188.5h1M316 188.5h1M321 188.5h2M325 188.5h4M331 188.5h6M338 188.5h1M340 188.5h1M342 188.5h2M345 188.5h2M348 188.5h1M352 188.5h2M358 188.5h1M412 188.5h1M415 188.5h2M419 188.5h1M424 188.5h3M431 188.5h1M433 188.5h3M442 188.5h2M448 188.5h7M457 188.5h2M460 188.5h4M465 188.5h2M297 189.5h1M301 189.5h1M306 189.5h4M317 189.5h4M327 189.5h2M330 189.5h1M334 189.5h2M338 189.5h3M342 189.5h2M349 189.5h1M358 189.5h1M418 189.5h4M423 189.5h1M425 189.5h3M439 189.5h1M442 189.5h3M449 189.5h1M459 189.5h2M465 189.5h1M467 189.5h2M472 189.5h1M475 189.5h1M480 189.5h1M296 190.5h3M300 190.5h1M308 190.5h1M310 190.5h3M318 190.5h1M323 190.5h1M326 190.5h1M328 190.5h1M332 190.5h4M341 190.5h1M344 190.5h1M349 190.5h1M356 190.5h2M413 190.5h1M416 190.5h1M419 190.5h1M430 190.5h1M432 190.5h2M436 190.5h1M438 190.5h1M441 190.5h1M444 190.5h2M447 190.5h2M451 190.5h1M456 190.5h1M467 190.5h1M469 190.5h1M475 190.5h2M296 191.5h2M304 191.5h1M311 191.5h1M313 191.5h1M315 191.5h1M317 191.5h2M321 191.5h3M325 191.5h2M329 191.5h1M333 191.5h1M338 191.5h4M344 191.5h3M350 191.5h2M357 191.5h1M413 191.5h1M415 191.5h2M422 191.5h3M432 191.5h1M434 191.5h1M451 191.5h2M458 191.5h2M462 191.5h2M465 191.5h1M471 191.5h1M477 191.5h1M479 191.5h1M295 192.5h1M297 192.5h1M299 192.5h1M301 192.5h1M304 192.5h1M306 192.5h2M310 192.5h4M315 192.5h1M324 192.5h2M328 192.5h4M333 192.5h3M337 192.5h1M340 192.5h1M346 192.5h1M350 192.5h2M354 192.5h1M357 192.5h3M416 192.5h1M424 192.5h1M433 192.5h1M435 192.5h1M437 192.5h3M441 192.5h1M450 192.5h1M456 192.5h3M460 192.5h2M463 192.5h3M475 192.5h1M295 193.5h1M297 193.5h4M302 193.5h2M305 193.5h1M307 193.5h1M309 193.5h3M313 193.5h2M316 193.5h2M321 193.5h2M324 193.5h2M328 193.5h1M335 193.5h2M339 193.5h3M344 193.5h1M353 193.5h1M412 193.5h3M419 193.5h1M421 193.5h1M429 193.5h1M432 193.5h5M438 193.5h1M441 193.5h1M444 193.5h1M451 193.5h2M455 193.5h2M458 193.5h3M464 193.5h2M473 193.5h4M478 193.5h1M296 194.5h1M300 194.5h2M303 194.5h1M307 194.5h4M314 194.5h1M317 194.5h1M321 194.5h1M323 194.5h1M325 194.5h3M329 194.5h1M332 194.5h1M337 194.5h1M339 194.5h1M341 194.5h2M352 194.5h1M412 194.5h1M445 194.5h1M451 194.5h1M453 194.5h2M459 194.5h1M461 194.5h1M465 194.5h1M474 194.5h2M297 195.5h1M299 195.5h1M302 195.5h2M305 195.5h2M308 195.5h1M310 195.5h2M315 195.5h1M317 195.5h2M320 195.5h1M322 195.5h1M324 195.5h1M328 195.5h1M330 195.5h2M335 195.5h2M338 195.5h1M341 195.5h2M344 195.5h1M351 195.5h2M414 195.5h1M437 195.5h2M440 195.5h1M444 195.5h2M451 195.5h4M456 195.5h1M459 195.5h3M468 195.5h1M473 195.5h2M478 195.5h1M295 196.5h1M297 196.5h2M303 196.5h1M308 196.5h1M319 196.5h2M322 196.5h1M325 196.5h1M327 196.5h1M329 196.5h2M332 196.5h2M350 196.5h1M357 196.5h1M437 196.5h1M440 196.5h2M443 196.5h1M446 196.5h3M450 196.5h1M453 196.5h1M458 196.5h1M462 196.5h1M465 196.5h2M468 196.5h1M470 196.5h1M297 197.5h1M299 197.5h1M303 197.5h1M306 197.5h1M308 197.5h1M314 197.5h1M316 197.5h1M318 197.5h3M322 197.5h1M329 197.5h1M332 197.5h1M334 197.5h1M337 197.5h1M339 197.5h1M357 197.5h1M437 197.5h1M442 197.5h1M445 197.5h2M448 197.5h3M453 197.5h2M457 197.5h6M469 197.5h3M475 197.5h1M477 197.5h1M298 198.5h2M302 198.5h3M307 198.5h2M310 198.5h1M314 198.5h1M319 198.5h1M321 198.5h1M324 198.5h1M329 198.5h1M333 198.5h1M336 198.5h1M338 198.5h4M356 198.5h1M358 198.5h1M412 198.5h1M438 198.5h3M442 198.5h3M450 198.5h1M454 198.5h1M457 198.5h1M465 198.5h1M469 198.5h1M479 198.5h2M295 199.5h1M299 199.5h1M302 199.5h1M305 199.5h1M310 199.5h2M316 199.5h3M320 199.5h3M324 199.5h1M326 199.5h2M330 199.5h1M333 199.5h1M335 199.5h1M340 199.5h1M356 199.5h2M360 199.5h1M440 199.5h2M444 199.5h1M446 199.5h1M449 199.5h1M453 199.5h1M455 199.5h1M465 199.5h2M475 199.5h1M477 199.5h1M295 200.5h5M302 200.5h1M312 200.5h1M318 200.5h1M322 200.5h1M324 200.5h1M332 200.5h1M334 200.5h1M337 200.5h1M342 200.5h1M356 200.5h1M358 200.5h1M416 200.5h1M446 200.5h4M451 200.5h3M455 200.5h2M458 200.5h1M467 200.5h1M469 200.5h2M474 200.5h1M478 200.5h1M482 200.5h1M295 201.5h1M297 201.5h1M299 201.5h2M305 201.5h1M309 201.5h2M314 201.5h1M316 201.5h1M321 201.5h3M326 201.5h1M329 201.5h2M332 201.5h2M337 201.5h3M342 201.5h1M355 201.5h2M358 201.5h2M435 201.5h2M443 201.5h1M446 201.5h1M452 201.5h1M454 201.5h2M458 201.5h1M462 201.5h2M468 201.5h2M471 201.5h1M474 201.5h1M478 201.5h1M297 202.5h2M308 202.5h1M312 202.5h1M315 202.5h1M317 202.5h1M321 202.5h1M323 202.5h5M331 202.5h2M336 202.5h2M340 202.5h1M358 202.5h1M445 202.5h2M451 202.5h1M459 202.5h4M466 202.5h3M478 202.5h1M296 203.5h1M298 203.5h1M305 203.5h1M322 203.5h1M325 203.5h2M328 203.5h1M334 203.5h1M336 203.5h2M339 203.5h1M357 203.5h1M440 203.5h1M442 203.5h1M446 203.5h3M451 203.5h1M453 203.5h4M461 203.5h1M464 203.5h2M468 203.5h1M471 203.5h1M473 203.5h2M478 203.5h1M295 204.5h3M323 204.5h1M325 204.5h1M338 204.5h1M340 204.5h1M446 204.5h1M449 204.5h2M453 204.5h2M464 204.5h1M467 204.5h2M471 204.5h1M330 205.5h1M332 205.5h1M339 205.5h1M358 205.5h1M443 205.5h1M453 205.5h1M463 205.5h1M467 205.5h1M475 205.5h2M480 205.5h1M324 206.5h1M327 206.5h1M331 206.5h1M338 206.5h1M355 206.5h1M448 206.5h1M460 206.5h1M467 206.5h1M470 206.5h1M472 206.5h1M478 206.5h1M298 207.5h1M329 207.5h2M332 207.5h1M336 207.5h3M340 207.5h1M358 207.5h1M441 207.5h1M444 207.5h1M448 207.5h1M451 207.5h2M466 207.5h1M469 207.5h2M472 207.5h2M475 207.5h1M329 208.5h2M332 208.5h1M337 208.5h1M358 208.5h1M441 208.5h1M443 208.5h1M446 208.5h1M450 208.5h2M454 208.5h1M463 208.5h1M465 208.5h1M469 208.5h1M472 208.5h1M330 209.5h1M332 209.5h2M336 209.5h3M356 209.5h1M358 209.5h1M449 209.5h1M451 209.5h3M460 209.5h3M466 209.5h1M470 209.5h1M328 210.5h1M338 210.5h3M445 210.5h3M454 210.5h1M457 210.5h1M465 210.5h2M474 210.5h1M476 210.5h1M480 210.5h2M335 211.5h2M357 211.5h1M412 211.5h1M442 211.5h1M445 211.5h1M450 211.5h1M454 211.5h1M466 211.5h1M473 211.5h1M478 211.5h1M331 212.5h1M335 212.5h1M337 212.5h1M356 212.5h1M443 212.5h1M445 212.5h3M449 212.5h1M451 212.5h1M462 212.5h1M468 212.5h1M472 212.5h1M476 212.5h2M334 213.5h1M361 213.5h1M441 213.5h2M445 213.5h2M449 213.5h1M456 213.5h1M459 213.5h1M461 213.5h1M464 213.5h2M478 213.5h2M333 214.5h2M340 214.5h2M358 214.5h1M441 214.5h1M444 214.5h2M448 214.5h2M452 214.5h2M455 214.5h1M458 214.5h1M461 214.5h1M466 214.5h1M473 214.5h1M478 214.5h1M331 215.5h1M334 215.5h1M337 215.5h2M340 215.5h1M446 215.5h1M448 215.5h1M451 215.5h1M453 215.5h3M467 215.5h5M476 215.5h2M330 216.5h2M333 216.5h1M338 216.5h4M440 216.5h1M443 216.5h2M447 216.5h1M451 216.5h2M454 216.5h2M459 216.5h1M469 216.5h2M328 217.5h6M338 217.5h1M440 217.5h6M447 217.5h1M449 217.5h1M451 217.5h4M459 217.5h1M476 217.5h1M478 217.5h1M331 218.5h3M338 218.5h1M355 218.5h1M358 218.5h2M441 218.5h1M445 218.5h2M450 218.5h1M452 218.5h1M454 218.5h2M457 218.5h1M460 218.5h2M468 218.5h3M474 218.5h1M330 219.5h2M333 219.5h1M335 219.5h1M357 219.5h1M359 219.5h1M435 219.5h1M437 219.5h1M444 219.5h3M451 219.5h3M457 219.5h2M460 219.5h1M462 219.5h1M464 219.5h2M469 219.5h1M472 219.5h1M330 220.5h1M336 220.5h2M339 220.5h2M359 220.5h2M441 220.5h1M444 220.5h1M446 220.5h4M453 220.5h1M456 220.5h1M458 220.5h2M464 220.5h2M469 220.5h2M472 220.5h1M479 220.5h1M334 221.5h1M337 221.5h4M358 221.5h2M439 221.5h1M442 221.5h1M448 221.5h3M455 221.5h1M457 221.5h5M464 221.5h1M470 221.5h1M475 221.5h1M295 222.5h1M329 222.5h3M334 222.5h1M356 222.5h1M358 222.5h1M360 222.5h1M435 222.5h1M445 222.5h2M449 222.5h3M454 222.5h1M459 222.5h2M462 222.5h1M464 222.5h3M470 222.5h3M475 222.5h1M479 222.5h1M295 223.5h2M334 223.5h1M336 223.5h1M357 223.5h3M439 223.5h1M441 223.5h2M446 223.5h1M452 223.5h1M454 223.5h1M459 223.5h1M464 223.5h1M468 223.5h1M329 224.5h1M334 224.5h3M357 224.5h3M438 224.5h1M440 224.5h4M446 224.5h1M449 224.5h1M452 224.5h1M454 224.5h1M459 224.5h2M463 224.5h2M467 224.5h1M473 224.5h1M476 224.5h1M478 224.5h1M327 225.5h1M329 225.5h1M334 225.5h1M336 225.5h1M338 225.5h2M356 225.5h2M359 225.5h1M415 225.5h1M437 225.5h1M441 225.5h2M444 225.5h3M450 225.5h2M454 225.5h1M461 225.5h1M470 225.5h3M476 225.5h1M481 225.5h1M322 226.5h1M327 226.5h4M333 226.5h1M336 226.5h2M340 226.5h2M357 226.5h1M412 226.5h1M415 226.5h1M437 226.5h2M440 226.5h2M444 226.5h1M447 226.5h3M458 226.5h1M462 226.5h1M466 226.5h1M474 226.5h2M477 226.5h1M316 227.5h1M320 227.5h1M327 227.5h2M333 227.5h4M340 227.5h3M356 227.5h1M412 227.5h1M415 227.5h1M422 227.5h1M430 227.5h1M433 227.5h3M440 227.5h1M442 227.5h3M446 227.5h1M449 227.5h1M451 227.5h4M463 227.5h1M469 227.5h1" stroke="#8c8c8c" stroke-width="1" fill="none"/><path d="M458 42.5h1M462 42.5h1M444 43.5h1M449 43.5h1M452 43.5h1M454 43.5h3M461 43.5h2M464 43.5h2M469 43.5h1M472 43.5h1M474 43.5h1M331 44.5h1M334 44.5h1M346 44.5h2M352 44.5h2M443 44.5h3M449 44.5h1M451 44.5h1M458 44.5h6M465 44.5h1M467 44.5h1M471 44.5h1M474 44.5h2M334 45.5h1M340 45.5h2M345 45.5h4M355 45.5h1M413 45.5h1M416 45.5h1M421 45.5h1M423 45.5h1M425 45.5h1M429 45.5h2M432 45.5h1M436 45.5h2M439 45.5h1M442 45.5h1M445 45.5h1M447 45.5h1M449 45.5h1M456 45.5h1M464 45.5h1M467 45.5h1M469 45.5h1M471 45.5h2M474 45.5h1M476 45.5h1M329 46.5h1M332 46.5h1M336 46.5h1M342 46.5h2M345 46.5h1M347 46.5h1M350 46.5h1M353 46.5h1M412 46.5h1M418 46.5h2M421 46.5h1M423 46.5h2M427 46.5h1M431 46.5h2M434 46.5h1M436 46.5h1M438 46.5h1M441 46.5h2M444 46.5h1M449 46.5h2M475 46.5h2M329 47.5h1M335 47.5h1M337 47.5h1M340 47.5h2M343 47.5h1M345 47.5h1M354 47.5h1M413 47.5h2M418 47.5h3M432 47.5h1M436 47.5h1M440 47.5h1M442 47.5h1M445 47.5h1M453 47.5h1M457 47.5h1M471 47.5h1M475 47.5h3M313 48.5h1M324 48.5h1M329 48.5h1M339 48.5h1M358 48.5h1M412 48.5h2M415 48.5h1M417 48.5h2M421 48.5h1M424 48.5h1M426 48.5h1M430 48.5h1M433 48.5h3M438 48.5h1M441 48.5h3M445 48.5h1M447 48.5h1M456 48.5h1M467 48.5h2M474 48.5h1M476 48.5h1M295 49.5h1M300 49.5h1M302 49.5h1M318 49.5h1M320 49.5h1M325 49.5h1M327 49.5h2M357 49.5h1M415 49.5h1M418 49.5h1M420 49.5h3M424 49.5h1M436 49.5h1M454 49.5h1M473 49.5h1M475 49.5h2M303 50.5h2M310 50.5h2M314 50.5h1M319 50.5h3M358 50.5h1M413 50.5h1M416 50.5h1M419 50.5h1M422 50.5h1M425 50.5h2M435 50.5h1M437 50.5h1M439 50.5h1M444 50.5h1M446 50.5h1M473 50.5h1M477 50.5h1M296 51.5h1M300 51.5h2M304 51.5h1M306 51.5h1M310 51.5h2M318 51.5h2M324 51.5h1M353 51.5h1M356 51.5h1M358 51.5h1M415 51.5h1M419 51.5h2M423 51.5h4M429 51.5h2M433 51.5h1M456 51.5h1M458 51.5h2M462 51.5h2M466 51.5h1M469 51.5h2M295 52.5h3M300 52.5h1M308 52.5h1M315 52.5h1M317 52.5h2M321 52.5h3M325 52.5h3M355 52.5h3M421 52.5h1M423 52.5h1M425 52.5h2M429 52.5h3M433 52.5h2M437 52.5h1M452 52.5h1M458 52.5h1M470 52.5h1M475 52.5h2M298 53.5h3M306 53.5h1M309 53.5h6M316 53.5h1M319 53.5h1M322 53.5h1M324 53.5h1M327 53.5h1M356 53.5h1M413 53.5h3M417 53.5h1M419 53.5h3M428 53.5h1M432 53.5h1M434 53.5h1M437 53.5h2M443 53.5h1M474 53.5h2M296 54.5h2M299 54.5h1M301 54.5h1M313 54.5h1M315 54.5h2M319 54.5h1M321 54.5h2M324 54.5h2M327 54.5h1M417 54.5h2M421 54.5h2M424 54.5h1M426 54.5h2M429 54.5h2M432 54.5h1M434 54.5h1M471 54.5h3M304 55.5h3M309 55.5h2M312 55.5h1M315 55.5h2M318 55.5h1M320 55.5h1M323 55.5h1M413 55.5h2M419 55.5h1M421 55.5h2M424 55.5h3M429 55.5h1M433 55.5h1M474 55.5h1M299 56.5h1M308 56.5h1M314 56.5h1M317 56.5h1M319 56.5h1M326 56.5h1M355 56.5h1M357 56.5h1M419 56.5h1M421 56.5h1M423 56.5h1M427 56.5h3M434 56.5h1M438 56.5h1M469 56.5h2M472 56.5h3M307 57.5h1M309 57.5h2M312 57.5h2M320 57.5h1M323 57.5h1M327 57.5h1M354 57.5h1M415 57.5h1M425 57.5h2M429 57.5h1M434 57.5h4M473 57.5h2M297 58.5h1M306 58.5h3M312 58.5h2M316 58.5h1M318 58.5h1M325 58.5h1M328 58.5h1M353 58.5h2M413 58.5h3M420 58.5h1M425 58.5h2M438 58.5h1M469 58.5h1M472 58.5h2M298 59.5h1M303 59.5h1M305 59.5h1M310 59.5h1M313 59.5h2M319 59.5h2M322 59.5h2M325 59.5h1M329 59.5h1M413 59.5h1M418 59.5h1M421 59.5h1M432 59.5h1M436 59.5h2M468 59.5h1M472 59.5h2M297 60.5h1M303 60.5h1M305 60.5h2M309 60.5h2M312 60.5h3M316 60.5h1M319 60.5h1M321 60.5h2M324 60.5h1M326 60.5h2M329 60.5h1M331 60.5h1M415 60.5h1M418 60.5h3M422 60.5h2M427 60.5h2M430 60.5h2M433 60.5h1M436 60.5h3M472 60.5h1M295 61.5h1M297 61.5h1M299 61.5h3M306 61.5h1M308 61.5h2M312 61.5h2M316 61.5h1M320 61.5h2M324 61.5h1M326 61.5h3M330 61.5h2M352 61.5h1M354 61.5h1M426 61.5h2M431 61.5h2M434 61.5h1M296 62.5h1M302 62.5h1M307 62.5h1M309 62.5h2M314 62.5h1M318 62.5h3M322 62.5h1M324 62.5h2M327 62.5h1M351 62.5h1M353 62.5h1M415 62.5h1M418 62.5h1M425 62.5h1M430 62.5h2M436 62.5h1M438 62.5h1M468 62.5h1M471 62.5h1M295 63.5h2M298 63.5h1M300 63.5h3M304 63.5h3M308 63.5h2M311 63.5h1M313 63.5h2M317 63.5h1M319 63.5h2M328 63.5h1M332 63.5h1M351 63.5h2M413 63.5h2M418 63.5h1M424 63.5h1M429 63.5h2M434 63.5h1M295 64.5h1M302 64.5h1M304 64.5h2M307 64.5h4M316 64.5h1M318 64.5h1M320 64.5h1M325 64.5h1M328 64.5h1M330 64.5h2M337 64.5h1M349 64.5h2M412 64.5h2M415 64.5h2M418 64.5h1M421 64.5h1M428 64.5h1M430 64.5h3M435 64.5h3M469 64.5h1M295 65.5h2M299 65.5h1M307 65.5h1M309 65.5h1M311 65.5h1M314 65.5h1M316 65.5h1M323 65.5h3M327 65.5h1M329 65.5h1M331 65.5h2M334 65.5h2M350 65.5h1M353 65.5h1M412 65.5h1M416 65.5h2M420 65.5h1M425 65.5h3M431 65.5h2M435 65.5h4M469 65.5h2M299 66.5h1M301 66.5h1M306 66.5h1M310 66.5h1M312 66.5h2M317 66.5h1M321 66.5h2M324 66.5h1M332 66.5h1M346 66.5h1M349 66.5h1M416 66.5h1M418 66.5h1M421 66.5h1M424 66.5h3M429 66.5h2M433 66.5h1M435 66.5h1M437 66.5h2M469 66.5h1M309 67.5h3M314 67.5h1M317 67.5h1M322 67.5h1M324 67.5h2M413 67.5h1M415 67.5h1M417 67.5h1M419 67.5h1M421 67.5h3M428 67.5h1M435 67.5h2M438 67.5h1M466 67.5h2M469 67.5h1M297 68.5h1M309 68.5h1M320 68.5h2M323 68.5h1M327 68.5h1M329 68.5h2M332 68.5h2M337 68.5h3M341 68.5h1M422 68.5h1M430 68.5h1M436 68.5h1M441 68.5h2M466 68.5h4M312 69.5h1M315 69.5h1M317 69.5h1M321 69.5h1M329 69.5h1M332 69.5h4M337 69.5h1M339 69.5h2M349 69.5h2M412 69.5h3M417 69.5h1M423 69.5h2M433 69.5h1M436 69.5h1M441 69.5h5M447 69.5h1M299 70.5h1M302 70.5h1M304 70.5h1M313 70.5h1M320 70.5h1M322 70.5h1M324 70.5h1M326 70.5h2M329 70.5h1M331 70.5h3M335 70.5h1M338 70.5h1M413 70.5h1M416 70.5h1M420 70.5h2M423 70.5h2M430 70.5h2M433 70.5h1M435 70.5h1M439 70.5h2M444 70.5h1M447 70.5h1M450 70.5h1M299 71.5h1M305 71.5h1M313 71.5h1M321 71.5h1M323 71.5h1M325 71.5h1M330 71.5h1M332 71.5h1M334 71.5h1M336 71.5h1M339 71.5h1M348 71.5h5M414 71.5h2M417 71.5h1M425 71.5h1M427 71.5h1M436 71.5h1M441 71.5h1M447 71.5h1M449 71.5h3M457 71.5h1M461 71.5h1M309 72.5h1M322 72.5h1M324 72.5h3M328 72.5h1M333 72.5h1M336 72.5h1M414 72.5h1M424 72.5h2M428 72.5h1M440 72.5h1M449 72.5h1M451 72.5h1M453 72.5h5M461 72.5h4M469 72.5h1M300 73.5h2M305 73.5h1M308 73.5h1M319 73.5h2M322 73.5h1M324 73.5h1M326 73.5h2M332 73.5h1M334 73.5h1M338 73.5h1M352 73.5h2M424 73.5h1M427 73.5h1M451 73.5h1M453 73.5h1M458 73.5h1M462 73.5h1M467 73.5h1M300 74.5h1M305 74.5h1M312 74.5h1M318 74.5h1M321 74.5h1M324 74.5h1M330 74.5h1M334 74.5h3M339 74.5h1M351 74.5h2M423 74.5h1M447 74.5h1M455 74.5h1M458 74.5h8M468 74.5h1M299 75.5h1M301 75.5h1M311 75.5h1M318 75.5h1M326 75.5h2M330 75.5h1M334 75.5h2M352 75.5h1M356 75.5h1M451 75.5h1M453 75.5h1M458 75.5h2M461 75.5h2M467 75.5h1M298 76.5h1M330 76.5h1M334 76.5h1M336 76.5h3M342 76.5h1M352 76.5h1M425 76.5h1M450 76.5h3M454 76.5h1M456 76.5h2M465 76.5h1M302 77.5h1M309 77.5h1M332 77.5h1M337 77.5h1M450 77.5h1M452 77.5h1M454 77.5h1M457 77.5h1M462 77.5h2M329 78.5h1M334 78.5h2M338 78.5h2M353 78.5h1M448 78.5h1M450 78.5h5M456 78.5h3M466 78.5h1M476 78.5h1M329 79.5h1M332 79.5h3M336 79.5h1M342 79.5h1M452 79.5h1M455 79.5h1M458 79.5h1M463 79.5h2M466 79.5h1M328 80.5h1M331 80.5h3M337 80.5h2M341 80.5h1M354 80.5h1M444 80.5h1M454 80.5h1M458 80.5h2M461 80.5h1M320 81.5h1M332 81.5h4M340 81.5h2M440 81.5h2M450 81.5h2M454 81.5h1M457 81.5h1M473 81.5h1M326 82.5h1M331 82.5h2M337 82.5h2M343 82.5h1M353 82.5h1M428 82.5h1M443 82.5h1M453 82.5h1M457 82.5h3M464 82.5h1M470 82.5h1M329 83.5h1M333 83.5h1M336 83.5h1M338 83.5h1M341 83.5h1M352 83.5h1M439 83.5h2M442 83.5h2M455 83.5h1M457 83.5h2M466 83.5h3M328 84.5h1M332 84.5h1M341 84.5h1M352 84.5h1M439 84.5h1M443 84.5h1M458 84.5h3M463 84.5h1M474 84.5h1M330 85.5h1M332 85.5h1M337 85.5h1M339 85.5h2M342 85.5h1M349 85.5h3M428 85.5h1M434 85.5h1M436 85.5h1M441 85.5h1M446 85.5h1M450 85.5h1M458 85.5h2M465 85.5h1M325 86.5h1M335 86.5h1M338 86.5h1M352 86.5h1M450 86.5h2M458 86.5h1M465 86.5h1M477 86.5h1M300 87.5h1M325 87.5h1M328 87.5h2M334 87.5h1M336 87.5h1M338 87.5h1M347 87.5h1M351 87.5h2M444 87.5h2M448 87.5h2M462 87.5h1M466 87.5h1M477 87.5h1M311 88.5h1M316 88.5h1M328 88.5h3M332 88.5h1M334 88.5h1M337 88.5h1M339 88.5h1M342 88.5h1M347 88.5h1M435 88.5h1M439 88.5h1M443 88.5h1M447 88.5h3M456 88.5h1M459 88.5h1M464 88.5h1M318 89.5h1M326 89.5h1M332 89.5h1M336 89.5h1M338 89.5h1M341 89.5h1M351 89.5h2M428 89.5h1M437 89.5h1M441 89.5h1M449 89.5h1M457 89.5h1M459 89.5h1M321 90.5h1M323 90.5h1M325 90.5h1M330 90.5h1M334 90.5h1M337 90.5h1M339 90.5h1M341 90.5h1M350 90.5h2M426 90.5h2M429 90.5h1M431 90.5h2M435 90.5h1M440 90.5h1M444 90.5h2M450 90.5h1M456 90.5h2M463 90.5h2M468 90.5h1M475 90.5h1M330 91.5h1M334 91.5h3M338 91.5h2M341 91.5h2M347 91.5h1M349 91.5h1M352 91.5h1M425 91.5h1M429 91.5h1M431 91.5h1M436 91.5h1M446 91.5h2M450 91.5h1M459 91.5h1M462 91.5h2M470 91.5h1M321 92.5h3M337 92.5h1M343 92.5h1M433 92.5h1M439 92.5h3M443 92.5h2M446 92.5h2M449 92.5h1M462 92.5h1M470 92.5h1M325 93.5h1M328 93.5h1M340 93.5h1M344 93.5h3M350 93.5h1M419 93.5h1M424 93.5h1M429 93.5h1M432 93.5h4M441 93.5h1M443 93.5h1M454 93.5h1M462 93.5h1M469 93.5h1M318 94.5h2M328 94.5h2M331 94.5h1M334 94.5h1M336 94.5h1M339 94.5h1M342 94.5h1M346 94.5h1M352 94.5h1M420 94.5h1M423 94.5h1M426 94.5h1M431 94.5h1M434 94.5h1M436 94.5h1M440 94.5h3M445 94.5h1M461 94.5h1M465 94.5h1M327 95.5h1M333 95.5h1M336 95.5h1M339 95.5h1M348 95.5h1M350 95.5h2M413 95.5h2M416 95.5h1M428 95.5h2M432 95.5h3M440 95.5h3M461 95.5h1M299 96.5h1M318 96.5h1M341 96.5h1M349 96.5h1M351 96.5h2M414 96.5h1M416 96.5h2M424 96.5h2M427 96.5h1M430 96.5h1M434 96.5h1M442 96.5h3M452 96.5h1M464 96.5h1M318 97.5h1M321 97.5h1M335 97.5h1M341 97.5h1M343 97.5h1M351 97.5h1M417 97.5h1M419 97.5h1M422 97.5h1M424 97.5h1M427 97.5h1M437 97.5h1M439 97.5h1M442 97.5h2M445 97.5h1M458 97.5h1M475 97.5h1M298 98.5h1M306 98.5h1M319 98.5h2M326 98.5h1M335 98.5h2M341 98.5h1M351 98.5h2M412 98.5h1M416 98.5h2M419 98.5h1M421 98.5h1M435 98.5h2M445 98.5h1M466 98.5h1M468 98.5h2M299 99.5h1M314 99.5h3M322 99.5h1M326 99.5h1M334 99.5h3M338 99.5h1M349 99.5h1M413 99.5h1M418 99.5h1M421 99.5h2M426 99.5h1M428 99.5h2M436 99.5h2M440 99.5h1M469 99.5h2M298 100.5h3M302 100.5h1M318 100.5h1M322 100.5h1M336 100.5h1M338 100.5h1M340 100.5h2M343 100.5h1M347 100.5h1M351 100.5h1M412 100.5h2M415 100.5h3M420 100.5h1M422 100.5h1M426 100.5h1M429 100.5h1M431 100.5h1M435 100.5h1M468 100.5h1M298 101.5h1M301 101.5h2M306 101.5h1M318 101.5h2M337 101.5h2M351 101.5h3M412 101.5h1M415 101.5h1M417 101.5h1M419 101.5h2M422 101.5h1M426 101.5h1M429 101.5h2M448 101.5h1M453 101.5h1M468 101.5h1M296 102.5h1M306 102.5h3M320 102.5h1M325 102.5h1M334 102.5h1M337 102.5h1M339 102.5h1M350 102.5h2M412 102.5h1M416 102.5h4M421 102.5h1M423 102.5h2M428 102.5h1M431 102.5h1M433 102.5h1M435 102.5h2M462 102.5h1M465 102.5h1M296 103.5h1M301 103.5h2M307 103.5h2M312 103.5h2M332 103.5h2M337 103.5h2M352 103.5h1M412 103.5h1M420 103.5h1M431 103.5h1M433 103.5h1M435 103.5h1M437 103.5h1M440 103.5h1M455 103.5h1M464 103.5h2M301 104.5h2M304 104.5h1M306 104.5h1M308 104.5h1M316 104.5h1M321 104.5h1M332 104.5h2M336 104.5h1M340 104.5h3M350 104.5h1M414 104.5h1M417 104.5h1M420 104.5h1M423 104.5h3M427 104.5h1M429 104.5h2M433 104.5h2M438 104.5h1M462 104.5h2M465 104.5h1M469 104.5h1M297 105.5h1M299 105.5h6M307 105.5h3M312 105.5h1M319 105.5h1M352 105.5h1M414 105.5h3M418 105.5h1M420 105.5h1M423 105.5h2M428 105.5h1M438 105.5h1M463 105.5h1M468 105.5h1M473 105.5h1M296 106.5h2M303 106.5h2M307 106.5h2M313 106.5h1M341 106.5h1M352 106.5h3M412 106.5h1M415 106.5h1M419 106.5h1M422 106.5h1M433 106.5h1M457 106.5h1M466 106.5h2M470 106.5h1M298 107.5h1M301 107.5h2M306 107.5h3M314 107.5h1M339 107.5h1M341 107.5h1M351 107.5h2M414 107.5h1M416 107.5h1M418 107.5h2M423 107.5h2M426 107.5h1M429 107.5h1M431 107.5h2M460 107.5h1M469 107.5h1M295 108.5h1M300 108.5h1M302 108.5h1M306 108.5h2M310 108.5h1M314 108.5h1M334 108.5h1M341 108.5h1M351 108.5h2M355 108.5h1M413 108.5h1M417 108.5h1M419 108.5h1M421 108.5h2M424 108.5h1M429 108.5h1M432 108.5h1M436 108.5h1M462 108.5h1M296 109.5h1M298 109.5h1M300 109.5h1M303 109.5h2M309 109.5h1M314 109.5h1M334 109.5h3M338 109.5h4M351 109.5h1M353 109.5h1M422 109.5h2M425 109.5h1M430 109.5h1M461 109.5h1M463 109.5h1M296 110.5h3M300 110.5h2M334 110.5h1M338 110.5h1M340 110.5h1M342 110.5h1M353 110.5h1M413 110.5h5M421 110.5h1M423 110.5h1M427 110.5h2M433 110.5h2M452 110.5h1M461 110.5h1M468 110.5h1M471 110.5h1M296 111.5h3M300 111.5h1M305 111.5h2M315 111.5h1M338 111.5h1M350 111.5h1M412 111.5h6M425 111.5h1M428 111.5h1M430 111.5h1M432 111.5h1M462 111.5h1M465 111.5h1M296 112.5h1M298 112.5h2M301 112.5h1M306 112.5h1M348 112.5h1M353 112.5h1M420 112.5h1M427 112.5h1M429 112.5h1M457 112.5h1M463 112.5h1M475 112.5h1M297 113.5h2M300 113.5h1M307 113.5h1M309 113.5h1M342 113.5h1M344 113.5h1M348 113.5h1M352 113.5h1M414 113.5h1M419 113.5h3M426 113.5h2M436 113.5h1M460 113.5h1M462 113.5h1M465 113.5h1M473 113.5h1M297 114.5h1M299 114.5h1M334 114.5h2M344 114.5h1M348 114.5h1M412 114.5h1M415 114.5h1M427 114.5h1M297 115.5h1M342 115.5h1M345 115.5h1M348 115.5h1M350 115.5h1M353 115.5h1M413 115.5h1M421 115.5h1M425 115.5h1M429 115.5h1M475 115.5h1M314 155.5h1M324 155.5h1M314 156.5h1M317 156.5h2M321 156.5h1M415 156.5h1M421 156.5h1M446 156.5h1M304 157.5h1M310 157.5h1M318 157.5h2M321 157.5h1M414 157.5h1M424 157.5h1M298 158.5h1M301 158.5h1M303 158.5h1M321 158.5h1M327 158.5h1M421 158.5h1M446 158.5h1M449 158.5h1M295 159.5h2M298 159.5h1M303 159.5h1M306 159.5h1M318 159.5h1M325 159.5h1M327 159.5h1M330 159.5h2M414 159.5h1M422 159.5h1M432 159.5h1M435 159.5h1M439 159.5h1M449 159.5h1M295 160.5h1M300 160.5h1M302 160.5h4M307 160.5h1M309 160.5h1M311 160.5h1M316 160.5h2M319 160.5h2M324 160.5h2M331 160.5h1M416 160.5h2M420 160.5h1M429 160.5h1M433 160.5h2M441 160.5h1M297 161.5h1M299 161.5h1M302 161.5h2M307 161.5h2M310 161.5h4M317 161.5h4M325 161.5h2M329 161.5h3M418 161.5h2M421 161.5h2M426 161.5h1M431 161.5h1M441 161.5h1M444 161.5h1M446 161.5h1M451 161.5h1M296 162.5h1M298 162.5h2M304 162.5h1M308 162.5h1M310 162.5h2M314 162.5h1M320 162.5h2M325 162.5h3M330 162.5h3M343 162.5h1M346 162.5h1M349 162.5h1M412 162.5h1M414 162.5h1M418 162.5h1M425 162.5h1M427 162.5h2M430 162.5h1M433 162.5h1M435 162.5h2M441 162.5h1M443 162.5h1M448 162.5h1M451 162.5h1M295 163.5h2M303 163.5h1M307 163.5h2M314 163.5h2M323 163.5h2M329 163.5h4M420 163.5h3M424 163.5h1M426 163.5h2M432 163.5h1M436 163.5h2M440 163.5h1M445 163.5h2M448 163.5h2M296 164.5h2M323 164.5h1M325 164.5h1M328 164.5h1M332 164.5h1M336 164.5h1M343 164.5h1M346 164.5h2M412 164.5h1M420 164.5h1M427 164.5h1M433 164.5h1M436 164.5h1M442 164.5h1M448 164.5h1M454 164.5h1M460 164.5h1M325 165.5h1M328 165.5h2M338 165.5h1M344 165.5h1M346 165.5h1M349 165.5h2M412 165.5h1M420 165.5h1M423 165.5h1M427 165.5h1M445 165.5h1M459 165.5h1M462 165.5h1M468 165.5h1M471 165.5h2M329 166.5h1M331 166.5h3M336 166.5h1M340 166.5h1M345 166.5h1M347 166.5h1M350 166.5h1M412 166.5h1M437 166.5h1M440 166.5h2M443 166.5h1M456 166.5h1M469 166.5h1M335 167.5h1M344 167.5h1M346 167.5h2M350 167.5h1M353 167.5h3M417 167.5h1M419 167.5h1M427 167.5h1M445 167.5h1M449 167.5h2M456 167.5h1M459 167.5h1M462 167.5h1M325 168.5h1M330 168.5h2M337 168.5h1M339 168.5h2M343 168.5h1M345 168.5h3M349 168.5h1M351 168.5h1M355 168.5h1M417 168.5h1M433 168.5h1M437 168.5h1M444 168.5h1M451 168.5h1M455 168.5h1M461 168.5h1M470 168.5h1M295 169.5h1M325 169.5h1M328 169.5h1M330 169.5h1M332 169.5h1M339 169.5h1M341 169.5h3M345 169.5h2M351 169.5h3M413 169.5h2M448 169.5h1M450 169.5h2M295 170.5h1M326 170.5h1M331 170.5h2M336 170.5h3M346 170.5h1M348 170.5h1M412 170.5h1M414 170.5h1M432 170.5h1M443 170.5h1M445 170.5h2M449 170.5h1M459 170.5h1M471 170.5h1M476 170.5h1M295 171.5h1M324 171.5h1M326 171.5h2M330 171.5h2M333 171.5h1M337 171.5h2M341 171.5h2M345 171.5h2M348 171.5h3M352 171.5h2M414 171.5h1M440 171.5h1M442 171.5h1M452 171.5h1M459 171.5h2M463 171.5h1M323 172.5h1M329 172.5h1M331 172.5h1M337 172.5h2M340 172.5h4M346 172.5h1M350 172.5h4M422 172.5h2M429 172.5h1M440 172.5h1M442 172.5h1M446 172.5h1M449 172.5h1M451 172.5h1M461 172.5h1M463 172.5h1M467 172.5h1M295 173.5h1M319 173.5h1M325 173.5h3M329 173.5h1M331 173.5h1M335 173.5h2M338 173.5h1M345 173.5h1M348 173.5h3M353 173.5h1M413 173.5h1M420 173.5h1M438 173.5h1M440 173.5h2M444 173.5h1M446 173.5h1M452 173.5h1M457 173.5h1M467 173.5h1M470 173.5h1M295 174.5h1M321 174.5h1M327 174.5h1M331 174.5h2M334 174.5h1M339 174.5h1M347 174.5h1M349 174.5h1M353 174.5h2M417 174.5h3M429 174.5h1M433 174.5h2M436 174.5h2M441 174.5h2M445 174.5h2M454 174.5h1M459 174.5h1M295 175.5h1M321 175.5h1M325 175.5h2M330 175.5h3M336 175.5h1M339 175.5h2M342 175.5h1M344 175.5h1M346 175.5h1M348 175.5h1M352 175.5h1M412 175.5h1M414 175.5h1M422 175.5h1M424 175.5h1M426 175.5h1M428 175.5h1M432 175.5h2M436 175.5h3M440 175.5h3M464 175.5h2M297 176.5h1M301 176.5h1M304 176.5h1M315 176.5h1M326 176.5h1M333 176.5h1M337 176.5h1M343 176.5h1M350 176.5h1M352 176.5h1M416 176.5h1M422 176.5h1M424 176.5h3M428 176.5h1M431 176.5h1M437 176.5h5M443 176.5h1M445 176.5h1M448 176.5h2M458 176.5h2M465 176.5h1M470 176.5h2M296 177.5h1M301 177.5h3M311 177.5h1M319 177.5h1M322 177.5h2M328 177.5h2M333 177.5h1M337 177.5h1M340 177.5h2M343 177.5h1M347 177.5h2M415 177.5h1M417 177.5h1M423 177.5h1M428 177.5h2M435 177.5h1M439 177.5h2M442 177.5h1M444 177.5h1M455 177.5h2M465 177.5h1M469 177.5h1M471 177.5h1M298 178.5h1M300 178.5h2M309 178.5h2M313 178.5h1M315 178.5h1M321 178.5h1M323 178.5h1M328 178.5h1M330 178.5h2M335 178.5h1M341 178.5h2M346 178.5h1M348 178.5h1M414 178.5h1M423 178.5h1M430 178.5h1M434 178.5h1M447 178.5h1M450 178.5h1M452 178.5h1M474 178.5h1M299 179.5h1M301 179.5h4M306 179.5h1M310 179.5h1M312 179.5h1M319 179.5h3M323 179.5h1M325 179.5h1M329 179.5h1M331 179.5h1M340 179.5h1M344 179.5h1M346 179.5h1M349 179.5h1M414 179.5h1M431 179.5h1M439 179.5h3M444 179.5h2M449 179.5h1M464 179.5h3M471 179.5h1M297 180.5h1M313 180.5h3M318 180.5h1M325 180.5h1M328 180.5h1M330 180.5h1M418 180.5h1M425 180.5h1M427 180.5h1M430 180.5h1M433 180.5h1M439 180.5h1M441 180.5h1M443 180.5h2M453 180.5h2M460 180.5h1M464 180.5h1M295 181.5h2M302 181.5h1M333 181.5h1M336 181.5h1M339 181.5h1M418 181.5h3M428 181.5h1M434 181.5h1M450 181.5h1M462 181.5h1M467 181.5h2M477 181.5h1M296 182.5h1M299 182.5h1M310 182.5h1M313 182.5h1M332 182.5h1M334 182.5h1M339 182.5h4M412 182.5h1M419 182.5h1M421 182.5h1M425 182.5h1M433 182.5h1M438 182.5h1M441 182.5h2M447 182.5h3M452 182.5h1M456 182.5h2M461 182.5h2M467 182.5h2M297 183.5h2M301 183.5h1M304 183.5h3M314 183.5h1M324 183.5h1M332 183.5h1M342 183.5h1M415 183.5h1M417 183.5h1M422 183.5h1M425 183.5h1M432 183.5h2M437 183.5h1M446 183.5h1M449 183.5h2M452 183.5h1M459 183.5h1M465 183.5h1M467 183.5h1M473 183.5h1M295 184.5h2M298 184.5h1M306 184.5h1M315 184.5h1M320 184.5h1M322 184.5h2M325 184.5h1M331 184.5h1M340 184.5h1M342 184.5h1M413 184.5h1M416 184.5h1M418 184.5h1M431 184.5h1M436 184.5h1M446 184.5h2M451 184.5h2M456 184.5h2M460 184.5h1M462 184.5h1M464 184.5h1M466 184.5h1M301 185.5h1M308 185.5h1M311 185.5h2M331 185.5h1M412 185.5h2M417 185.5h3M428 185.5h1M430 185.5h2M434 185.5h1M444 185.5h2M447 185.5h1M449 185.5h1M453 185.5h1M462 185.5h1M465 185.5h1M473 185.5h1M298 186.5h2M302 186.5h1M304 186.5h3M309 186.5h3M326 186.5h2M332 186.5h1M335 186.5h2M339 186.5h1M341 186.5h1M412 186.5h1M417 186.5h2M422 186.5h1M426 186.5h1M428 186.5h1M430 186.5h1M432 186.5h1M435 186.5h3M440 186.5h1M442 186.5h1M444 186.5h2M448 186.5h2M453 186.5h2M459 186.5h1M461 186.5h1M467 186.5h1M470 186.5h1M296 187.5h1M298 187.5h1M303 187.5h2M306 187.5h1M309 187.5h2M321 187.5h2M327 187.5h2M331 187.5h1M336 187.5h3M413 187.5h1M416 187.5h3M427 187.5h1M429 187.5h5M436 187.5h3M444 187.5h2M448 187.5h1M453 187.5h2M456 187.5h1M459 187.5h1M467 187.5h2M472 187.5h1M474 187.5h1M295 188.5h2M309 188.5h1M311 188.5h1M317 188.5h1M323 188.5h1M329 188.5h1M417 188.5h2M420 188.5h1M422 188.5h1M430 188.5h1M437 188.5h1M440 188.5h1M445 188.5h1M467 188.5h6M474 188.5h1M296 189.5h1M299 189.5h2M303 189.5h1M312 189.5h1M326 189.5h1M329 189.5h1M331 189.5h3M341 189.5h1M356 189.5h1M412 189.5h2M415 189.5h2M424 189.5h1M428 189.5h1M432 189.5h2M440 189.5h2M445 189.5h2M448 189.5h1M450 189.5h1M452 189.5h6M461 189.5h1M466 189.5h1M469 189.5h3M299 190.5h1M302 190.5h1M309 190.5h1M322 190.5h1M325 190.5h1M336 190.5h2M339 190.5h2M342 190.5h1M347 190.5h1M350 190.5h4M358 190.5h1M412 190.5h1M415 190.5h1M417 190.5h2M420 190.5h3M424 190.5h1M426 190.5h1M428 190.5h1M431 190.5h1M434 190.5h2M437 190.5h1M439 190.5h1M446 190.5h1M449 190.5h2M452 190.5h1M454 190.5h2M457 190.5h2M460 190.5h3M466 190.5h1M471 190.5h1M477 190.5h1M295 191.5h1M299 191.5h1M301 191.5h2M309 191.5h1M312 191.5h1M314 191.5h1M332 191.5h1M334 191.5h1M337 191.5h1M343 191.5h1M347 191.5h2M412 191.5h1M418 191.5h3M426 191.5h1M428 191.5h1M430 191.5h1M433 191.5h1M438 191.5h1M440 191.5h2M444 191.5h3M450 191.5h1M454 191.5h2M460 191.5h2M464 191.5h1M469 191.5h2M476 191.5h1M298 192.5h1M300 192.5h1M302 192.5h2M305 192.5h1M318 192.5h1M321 192.5h1M332 192.5h1M338 192.5h1M342 192.5h1M344 192.5h1M347 192.5h1M349 192.5h1M352 192.5h2M412 192.5h4M418 192.5h3M423 192.5h1M426 192.5h2M436 192.5h1M442 192.5h1M444 192.5h3M452 192.5h4M296 193.5h1M301 193.5h1M304 193.5h1M306 193.5h1M318 193.5h3M323 193.5h1M329 193.5h2M332 193.5h1M334 193.5h1M337 193.5h1M343 193.5h1M345 193.5h2M351 193.5h2M418 193.5h1M420 193.5h1M423 193.5h2M427 193.5h1M437 193.5h1M440 193.5h1M442 193.5h2M447 193.5h1M449 193.5h1M453 193.5h1M461 193.5h1M297 194.5h1M299 194.5h1M302 194.5h1M315 194.5h2M318 194.5h1M328 194.5h1M330 194.5h1M334 194.5h2M338 194.5h1M343 194.5h5M351 194.5h1M353 194.5h1M414 194.5h1M417 194.5h3M421 194.5h2M427 194.5h3M431 194.5h7M439 194.5h1M447 194.5h2M456 194.5h1M458 194.5h1M296 195.5h1M301 195.5h1M307 195.5h1M312 195.5h1M316 195.5h1M321 195.5h1M326 195.5h2M334 195.5h1M339 195.5h2M346 195.5h1M353 195.5h2M412 195.5h2M417 195.5h2M425 195.5h1M432 195.5h4M439 195.5h1M442 195.5h2M446 195.5h3M450 195.5h1M457 195.5h1M471 195.5h1M300 196.5h1M304 196.5h1M307 196.5h1M309 196.5h2M312 196.5h1M315 196.5h1M317 196.5h1M321 196.5h1M323 196.5h1M328 196.5h1M334 196.5h2M342 196.5h1M354 196.5h1M412 196.5h2M415 196.5h2M419 196.5h2M423 196.5h1M428 196.5h1M432 196.5h5M438 196.5h2M442 196.5h1M444 196.5h1M449 196.5h1M451 196.5h2M454 196.5h1M471 196.5h1M302 197.5h1M307 197.5h1M309 197.5h1M311 197.5h1M313 197.5h1M315 197.5h1M317 197.5h1M321 197.5h1M325 197.5h1M330 197.5h2M340 197.5h4M345 197.5h1M356 197.5h1M413 197.5h7M421 197.5h1M428 197.5h1M430 197.5h1M433 197.5h3M439 197.5h3M443 197.5h1M451 197.5h2M465 197.5h1M305 198.5h2M309 198.5h1M311 198.5h3M315 198.5h2M318 198.5h1M322 198.5h1M328 198.5h1M334 198.5h2M342 198.5h1M354 198.5h2M413 198.5h3M420 198.5h1M428 198.5h3M435 198.5h2M441 198.5h1M445 198.5h2M448 198.5h2M451 198.5h3M460 198.5h1M297 199.5h1M300 199.5h2M304 199.5h1M308 199.5h1M313 199.5h1M315 199.5h1M319 199.5h1M323 199.5h1M325 199.5h1M328 199.5h2M336 199.5h2M339 199.5h1M342 199.5h2M352 199.5h1M415 199.5h1M434 199.5h1M436 199.5h4M443 199.5h1M445 199.5h1M447 199.5h2M450 199.5h2M454 199.5h1M456 199.5h1M459 199.5h1M300 200.5h2M303 200.5h3M308 200.5h1M311 200.5h1M313 200.5h2M316 200.5h2M319 200.5h2M323 200.5h1M325 200.5h5M331 200.5h1M336 200.5h1M338 200.5h2M341 200.5h1M343 200.5h1M354 200.5h1M357 200.5h1M412 200.5h1M435 200.5h5M441 200.5h1M444 200.5h2M457 200.5h1M465 200.5h1M471 200.5h1M298 201.5h1M301 201.5h3M306 201.5h3M318 201.5h1M325 201.5h1M327 201.5h1M331 201.5h1M335 201.5h2M340 201.5h1M357 201.5h1M432 201.5h3M438 201.5h2M441 201.5h2M445 201.5h1M448 201.5h4M453 201.5h1M457 201.5h1M480 201.5h1M295 202.5h2M300 202.5h3M306 202.5h2M309 202.5h3M314 202.5h1M316 202.5h1M318 202.5h2M322 202.5h1M329 202.5h2M335 202.5h1M339 202.5h1M341 202.5h2M356 202.5h2M438 202.5h2M442 202.5h2M447 202.5h4M452 202.5h1M454 202.5h1M299 203.5h1M301 203.5h2M304 203.5h1M310 203.5h3M315 203.5h1M317 203.5h1M323 203.5h2M330 203.5h4M338 203.5h1M340 203.5h3M438 203.5h1M443 203.5h3M449 203.5h2M298 204.5h2M303 204.5h2M306 204.5h2M312 204.5h2M318 204.5h3M322 204.5h1M324 204.5h1M326 204.5h3M331 204.5h7M341 204.5h1M412 204.5h1M438 204.5h1M441 204.5h1M445 204.5h1M448 204.5h1M451 204.5h2M461 204.5h1M476 204.5h1M295 205.5h1M325 205.5h5M335 205.5h1M337 205.5h2M341 205.5h1M355 205.5h1M440 205.5h1M445 205.5h3M452 205.5h1M454 205.5h1M461 205.5h1M468 205.5h1M295 206.5h1M325 206.5h1M328 206.5h2M332 206.5h1M335 206.5h3M339 206.5h1M342 206.5h1M356 206.5h1M359 206.5h1M412 206.5h1M439 206.5h2M442 206.5h2M445 206.5h2M449 206.5h2M466 206.5h1M469 206.5h1M474 206.5h1M300 207.5h1M331 207.5h1M334 207.5h1M339 207.5h1M341 207.5h2M355 207.5h1M437 207.5h2M442 207.5h2M445 207.5h1M449 207.5h2M474 207.5h1M478 207.5h1M325 208.5h1M338 208.5h4M343 208.5h1M357 208.5h1M359 208.5h1M438 208.5h1M444 208.5h2M448 208.5h1M466 208.5h1M325 209.5h1M334 209.5h1M339 209.5h2M342 209.5h1M357 209.5h1M441 209.5h1M447 209.5h1M450 209.5h1M454 209.5h1M477 209.5h1M295 210.5h1M329 210.5h1M331 210.5h1M333 210.5h4M354 210.5h2M357 210.5h1M439 210.5h2M444 210.5h1M451 210.5h2M455 210.5h1M460 210.5h1M327 211.5h2M331 211.5h1M338 211.5h2M438 211.5h1M440 211.5h1M443 211.5h2M446 211.5h2M455 211.5h1M330 212.5h1M333 212.5h2M338 212.5h2M355 212.5h1M357 212.5h1M437 212.5h2M441 212.5h1M444 212.5h1M295 213.5h1M329 213.5h1M331 213.5h2M335 213.5h1M337 213.5h4M357 213.5h1M440 213.5h1M450 213.5h1M452 213.5h1M466 213.5h1M326 214.5h1M328 214.5h2M331 214.5h2M335 214.5h5M356 214.5h1M442 214.5h1M447 214.5h1M450 214.5h2M467 214.5h1M295 215.5h1M329 215.5h1M332 215.5h2M335 215.5h1M356 215.5h2M441 215.5h1M443 215.5h3M447 215.5h1M295 216.5h1M328 216.5h1M332 216.5h1M334 216.5h3M354 216.5h1M356 216.5h1M436 216.5h1M438 216.5h1M441 216.5h2M446 216.5h1M448 216.5h3M453 216.5h1M479 216.5h1M337 217.5h1M355 217.5h1M358 217.5h1M412 217.5h1M437 217.5h1M439 217.5h1M446 217.5h1M450 217.5h1M455 217.5h1M458 217.5h1M464 217.5h1M295 218.5h1M329 218.5h1M335 218.5h2M339 218.5h1M341 218.5h1M356 218.5h1M412 218.5h1M440 218.5h1M444 218.5h1M447 218.5h1M459 218.5h1M332 219.5h1M334 219.5h1M338 219.5h2M355 219.5h1M358 219.5h1M438 219.5h1M441 219.5h1M443 219.5h1M447 219.5h2M450 219.5h1M295 220.5h1M329 220.5h1M331 220.5h4M343 220.5h1M438 220.5h3M443 220.5h1M295 221.5h2M330 221.5h2M333 221.5h1M336 221.5h1M356 221.5h1M412 221.5h1M436 221.5h1M438 221.5h1M440 221.5h2M443 221.5h4M453 221.5h1M469 221.5h1M296 222.5h1M332 222.5h2M335 222.5h3M339 222.5h1M359 222.5h1M438 222.5h7M448 222.5h1M452 222.5h1M297 223.5h1M330 223.5h2M333 223.5h1M335 223.5h1M337 223.5h4M342 223.5h1M355 223.5h1M412 223.5h2M435 223.5h1M438 223.5h1M444 223.5h1M453 223.5h1M467 223.5h1M470 223.5h1M295 224.5h1M299 224.5h1M327 224.5h1M331 224.5h1M333 224.5h1M338 224.5h1M340 224.5h1M342 224.5h1M356 224.5h1M412 224.5h1M436 224.5h1M445 224.5h1M448 224.5h1M453 224.5h1M455 224.5h1M470 224.5h1M297 225.5h1M299 225.5h1M328 225.5h1M330 225.5h1M335 225.5h1M344 225.5h1M350 225.5h1M358 225.5h1M412 225.5h3M432 225.5h1M436 225.5h1M440 225.5h1M443 225.5h1M447 225.5h1M452 225.5h2M295 226.5h1M297 226.5h2M300 226.5h1M321 226.5h1M323 226.5h1M326 226.5h1M345 226.5h1M351 226.5h1M414 226.5h1M418 226.5h2M427 226.5h1M430 226.5h4M435 226.5h1M446 226.5h1M450 226.5h1M453 226.5h1M295 227.5h3M299 227.5h1M304 227.5h1M307 227.5h1M317 227.5h3M322 227.5h1M324 227.5h2M329 227.5h2M332 227.5h1M337 227.5h1M339 227.5h1M348 227.5h2M351 227.5h1M353 227.5h3M414 227.5h1M416 227.5h1M423 227.5h1M426 227.5h2M431 227.5h2M437 227.5h1M439 227.5h1M441 227.5h1M445 227.5h1M447 227.5h1M458 227.5h1" stroke="#4d4d4d" stroke-width="1" fill="none"/><path d="M456 42.5h1M446 43.5h1M450 43.5h1M453 43.5h1M463 43.5h1M468 43.5h1M473 43.5h1M345 44.5h1M453 44.5h2M456 44.5h2M466 44.5h1M470 44.5h1M473 44.5h1M333 45.5h1M351 45.5h2M418 45.5h1M441 45.5h1M443 45.5h2M448 45.5h1M450 45.5h6M457 45.5h5M465 45.5h2M468 45.5h1M470 45.5h1M473 45.5h1M333 46.5h3M339 46.5h3M344 46.5h1M346 46.5h1M348 46.5h2M351 46.5h1M354 46.5h2M417 46.5h1M420 46.5h1M429 46.5h2M435 46.5h1M437 46.5h1M439 46.5h2M443 46.5h1M446 46.5h3M451 46.5h24M330 47.5h5M336 47.5h1M338 47.5h1M342 47.5h1M344 47.5h1M346 47.5h7M355 47.5h2M412 47.5h1M415 47.5h3M422 47.5h1M424 47.5h1M428 47.5h4M433 47.5h1M435 47.5h1M437 47.5h3M443 47.5h2M446 47.5h7M454 47.5h3M458 47.5h13M472 47.5h3M325 48.5h1M330 48.5h3M334 48.5h5M340 48.5h3M344 48.5h10M355 48.5h1M414 48.5h1M416 48.5h1M419 48.5h2M423 48.5h1M425 48.5h1M427 48.5h1M431 48.5h2M436 48.5h2M439 48.5h2M444 48.5h1M446 48.5h1M448 48.5h8M457 48.5h10M469 48.5h5M477 48.5h2M319 49.5h1M326 49.5h1M330 49.5h27M412 49.5h3M416 49.5h2M423 49.5h1M425 49.5h4M430 49.5h2M437 49.5h17M455 49.5h18M300 50.5h1M322 50.5h1M326 50.5h32M417 50.5h2M421 50.5h1M423 50.5h2M427 50.5h2M436 50.5h1M438 50.5h1M440 50.5h4M445 50.5h1M447 50.5h6M454 50.5h19M474 50.5h2M297 51.5h1M303 51.5h1M309 51.5h1M313 51.5h2M320 51.5h4M325 51.5h28M354 51.5h2M357 51.5h1M412 51.5h2M416 51.5h3M421 51.5h2M427 51.5h2M434 51.5h1M436 51.5h1M438 51.5h18M457 51.5h1M460 51.5h2M464 51.5h2M467 51.5h2M471 51.5h4M306 52.5h2M314 52.5h1M320 52.5h1M328 52.5h27M412 52.5h4M418 52.5h2M427 52.5h2M432 52.5h1M435 52.5h2M438 52.5h14M453 52.5h5M459 52.5h11M471 52.5h4M315 53.5h1M321 53.5h1M326 53.5h1M328 53.5h28M412 53.5h1M418 53.5h1M427 53.5h1M429 53.5h1M435 53.5h2M439 53.5h4M444 53.5h30M309 54.5h1M312 54.5h1M320 54.5h1M326 54.5h1M328 54.5h28M412 54.5h5M420 54.5h1M435 54.5h1M438 54.5h33M298 55.5h2M308 55.5h1M313 55.5h1M319 55.5h1M324 55.5h31M412 55.5h1M415 55.5h4M420 55.5h1M423 55.5h1M427 55.5h2M430 55.5h2M435 55.5h1M437 55.5h37M305 56.5h2M311 56.5h1M313 56.5h1M320 56.5h1M328 56.5h27M412 56.5h1M414 56.5h1M416 56.5h3M420 56.5h1M422 56.5h1M424 56.5h3M430 56.5h2M435 56.5h3M439 56.5h30M471 56.5h1M311 57.5h1M325 57.5h2M329 57.5h25M355 57.5h1M412 57.5h1M414 57.5h1M416 57.5h5M422 57.5h1M424 57.5h1M427 57.5h1M430 57.5h4M438 57.5h35M300 58.5h1M319 58.5h2M329 58.5h24M355 58.5h1M419 58.5h1M431 58.5h1M436 58.5h2M439 58.5h30M470 58.5h2M297 59.5h1M306 59.5h1M311 59.5h2M316 59.5h1M321 59.5h1M328 59.5h1M330 59.5h25M438 59.5h30M469 59.5h2M300 60.5h1M307 60.5h1M311 60.5h1M317 60.5h1M320 60.5h1M325 60.5h1M330 60.5h1M332 60.5h21M416 60.5h1M424 60.5h1M432 60.5h1M439 60.5h32M303 61.5h1M307 61.5h1M311 61.5h1M314 61.5h2M317 61.5h2M325 61.5h1M329 61.5h1M332 61.5h20M353 61.5h1M423 61.5h3M429 61.5h1M433 61.5h1M438 61.5h31M297 62.5h5M303 62.5h1M306 62.5h1M311 62.5h1M316 62.5h2M321 62.5h1M326 62.5h1M328 62.5h2M331 62.5h20M352 62.5h1M416 62.5h1M422 62.5h2M435 62.5h1M437 62.5h1M439 62.5h29M470 62.5h1M297 63.5h1M299 63.5h1M312 63.5h1M318 63.5h1M321 63.5h3M325 63.5h3M329 63.5h3M333 63.5h18M353 63.5h1M415 63.5h1M431 63.5h2M437 63.5h30M299 64.5h3M311 64.5h1M313 64.5h1M315 64.5h1M319 64.5h1M321 64.5h3M326 64.5h1M332 64.5h3M336 64.5h1M338 64.5h11M351 64.5h1M427 64.5h1M434 64.5h1M438 64.5h30M471 64.5h1M297 65.5h1M312 65.5h2M318 65.5h2M321 65.5h2M326 65.5h1M330 65.5h1M333 65.5h1M336 65.5h13M439 65.5h29M307 66.5h1M309 66.5h1M316 66.5h1M323 66.5h1M325 66.5h5M331 66.5h1M333 66.5h1M335 66.5h11M347 66.5h2M439 66.5h29M323 67.5h1M326 67.5h2M329 67.5h2M332 67.5h4M337 67.5h12M416 67.5h1M437 67.5h1M439 67.5h27M319 68.5h1M325 68.5h2M334 68.5h3M340 68.5h1M342 68.5h7M415 68.5h1M420 68.5h2M429 68.5h1M431 68.5h1M437 68.5h4M443 68.5h23M319 69.5h1M323 69.5h6M330 69.5h2M336 69.5h1M338 69.5h1M341 69.5h8M425 69.5h1M437 69.5h4M446 69.5h1M448 69.5h19M319 70.5h1M328 70.5h1M330 70.5h1M334 70.5h1M336 70.5h2M340 70.5h10M422 70.5h1M441 70.5h2M445 70.5h2M448 70.5h2M451 70.5h16M324 71.5h1M326 71.5h2M331 71.5h1M333 71.5h1M335 71.5h1M337 71.5h2M340 71.5h8M418 71.5h1M452 71.5h5M458 71.5h3M462 71.5h4M300 72.5h1M323 72.5h1M329 72.5h3M334 72.5h2M337 72.5h1M339 72.5h13M447 72.5h1M452 72.5h1M458 72.5h3M465 72.5h2M323 73.5h1M328 73.5h4M333 73.5h1M335 73.5h1M339 73.5h13M452 73.5h1M454 73.5h1M456 73.5h2M459 73.5h2M466 73.5h1M327 74.5h2M331 74.5h3M337 74.5h2M340 74.5h11M453 74.5h2M456 74.5h2M466 74.5h1M331 75.5h3M337 75.5h15M353 75.5h2M452 75.5h1M455 75.5h2M460 75.5h1M463 75.5h1M326 76.5h1M331 76.5h1M335 76.5h1M339 76.5h2M343 76.5h9M453 76.5h1M455 76.5h1M458 76.5h6M320 77.5h1M331 77.5h1M333 77.5h4M339 77.5h14M451 77.5h1M453 77.5h1M455 77.5h1M458 77.5h1M460 77.5h2M337 78.5h1M340 78.5h13M455 78.5h1M463 78.5h1M330 79.5h2M337 79.5h1M339 79.5h3M343 79.5h11M454 79.5h1M457 79.5h1M460 79.5h1M334 80.5h3M339 80.5h2M342 80.5h12M457 80.5h1M336 81.5h1M338 81.5h1M342 81.5h12M463 81.5h1M336 82.5h1M342 82.5h1M344 82.5h9M452 82.5h1M342 83.5h10M449 83.5h1M454 83.5h1M463 83.5h1M465 83.5h1M329 84.5h1M333 84.5h3M342 84.5h7M350 84.5h2M456 84.5h1M334 85.5h1M341 85.5h1M343 85.5h6M353 85.5h1M447 85.5h1M474 85.5h1M332 86.5h1M336 86.5h1M341 86.5h10M447 86.5h1M456 86.5h1M341 87.5h6M348 87.5h3M443 87.5h1M457 87.5h3M331 88.5h1M335 88.5h2M341 88.5h1M343 88.5h4M348 88.5h3M339 89.5h1M342 89.5h9M338 90.5h1M342 90.5h8M434 90.5h1M343 91.5h4M348 91.5h1M350 91.5h1M439 91.5h1M335 92.5h2M341 92.5h1M344 92.5h8M445 92.5h1M453 92.5h1M342 93.5h2M347 93.5h3M351 93.5h1M437 93.5h1M445 93.5h1M340 94.5h1M343 94.5h3M347 94.5h5M428 94.5h1M322 95.5h1M328 95.5h1M331 95.5h1M334 95.5h1M341 95.5h7M464 95.5h1M320 96.5h1M335 96.5h1M342 96.5h7M350 96.5h1M459 96.5h1M320 97.5h1M336 97.5h1M342 97.5h1M344 97.5h7M352 97.5h1M421 97.5h1M425 97.5h2M432 97.5h1M466 97.5h1M315 98.5h1M334 98.5h1M342 98.5h9M422 98.5h1M426 98.5h2M327 99.5h1M342 99.5h7M350 99.5h1M414 99.5h1M438 99.5h1M342 100.5h1M344 100.5h3M349 100.5h2M352 100.5h1M418 100.5h2M421 100.5h1M428 100.5h1M430 100.5h1M432 100.5h1M342 101.5h9M423 101.5h3M427 101.5h2M300 102.5h1M336 102.5h1M340 102.5h10M415 102.5h1M420 102.5h1M422 102.5h1M425 102.5h3M297 103.5h1M339 103.5h13M415 103.5h5M421 103.5h2M425 103.5h1M427 103.5h1M432 103.5h1M436 103.5h1M463 103.5h1M299 104.5h1M303 104.5h1M310 104.5h1M339 104.5h1M343 104.5h7M351 104.5h2M415 104.5h2M421 104.5h2M426 104.5h1M431 104.5h2M439 104.5h1M341 105.5h11M412 105.5h1M417 105.5h1M419 105.5h1M421 105.5h1M425 105.5h3M431 105.5h1M433 105.5h1M298 106.5h1M342 106.5h10M416 106.5h3M421 106.5h1M424 106.5h2M427 106.5h3M303 107.5h2M340 107.5h1M342 107.5h9M415 107.5h1M421 107.5h1M425 107.5h1M427 107.5h2M301 108.5h1M342 108.5h9M414 108.5h3M418 108.5h1M420 108.5h1M423 108.5h1M425 108.5h2M428 108.5h1M430 108.5h1M433 108.5h1M295 109.5h1M299 109.5h1M301 109.5h1M329 109.5h1M342 109.5h9M352 109.5h1M413 109.5h6M420 109.5h1M424 109.5h1M426 109.5h3M471 109.5h1M302 110.5h1M343 110.5h10M418 110.5h1M422 110.5h1M424 110.5h1M431 110.5h2M342 111.5h8M351 111.5h3M418 111.5h1M421 111.5h1M423 111.5h2M429 111.5h1M463 111.5h1M302 112.5h1M341 112.5h7M349 112.5h2M352 112.5h1M416 112.5h4M423 112.5h2M299 113.5h1M301 113.5h1M308 113.5h1M343 113.5h1M345 113.5h3M349 113.5h3M417 113.5h1M423 113.5h3M342 114.5h2M345 114.5h3M349 114.5h4M417 114.5h1M425 114.5h2M343 115.5h2M349 115.5h1M351 115.5h1M327 157.5h1M317 159.5h1M431 159.5h1M434 159.5h1M296 160.5h1M306 160.5h1M312 160.5h1M428 160.5h1M435 160.5h1M296 161.5h1M301 161.5h1M420 161.5h1M428 161.5h2M433 161.5h2M442 161.5h2M297 162.5h1M300 162.5h3M305 162.5h2M312 162.5h2M315 162.5h5M413 162.5h1M415 162.5h3M419 162.5h4M426 162.5h1M429 162.5h1M431 162.5h1M434 162.5h1M438 162.5h3M446 162.5h2M297 163.5h6M304 163.5h3M309 163.5h5M316 163.5h7M325 163.5h4M345 163.5h2M412 163.5h8M423 163.5h1M425 163.5h1M428 163.5h4M433 163.5h3M438 163.5h2M441 163.5h4M298 164.5h25M324 164.5h1M326 164.5h2M329 164.5h3M344 164.5h2M413 164.5h7M421 164.5h6M428 164.5h5M434 164.5h2M438 164.5h4M443 164.5h3M451 164.5h1M295 165.5h30M326 165.5h2M330 165.5h1M341 165.5h2M413 165.5h7M421 165.5h2M424 165.5h3M428 165.5h11M440 165.5h5M446 165.5h1M461 165.5h1M295 166.5h34M330 166.5h1M338 166.5h2M341 166.5h2M344 166.5h1M346 166.5h1M413 166.5h24M438 166.5h2M442 166.5h1M444 166.5h3M295 167.5h36M336 167.5h2M341 167.5h1M412 167.5h5M418 167.5h1M420 167.5h7M428 167.5h17M446 167.5h2M295 168.5h30M326 168.5h4M338 168.5h1M344 168.5h1M348 168.5h1M350 168.5h1M412 168.5h5M418 168.5h15M434 168.5h3M438 168.5h6M445 168.5h2M448 168.5h2M296 169.5h29M326 169.5h2M329 169.5h1M331 169.5h1M348 169.5h1M350 169.5h1M412 169.5h1M415 169.5h33M296 170.5h30M330 170.5h1M339 170.5h1M343 170.5h3M349 170.5h3M413 170.5h1M415 170.5h17M433 170.5h10M444 170.5h1M447 170.5h2M296 171.5h28M325 171.5h1M328 171.5h2M332 171.5h1M339 171.5h1M344 171.5h1M351 171.5h1M412 171.5h2M415 171.5h25M441 171.5h1M443 171.5h3M447 171.5h1M295 172.5h28M324 172.5h5M330 172.5h1M332 172.5h1M339 172.5h1M345 172.5h1M347 172.5h2M413 172.5h9M424 172.5h5M430 172.5h10M441 172.5h1M443 172.5h3M447 172.5h2M296 173.5h23M320 173.5h5M328 173.5h1M330 173.5h1M339 173.5h2M342 173.5h1M344 173.5h1M351 173.5h2M414 173.5h6M421 173.5h17M439 173.5h1M442 173.5h2M445 173.5h1M296 174.5h25M322 174.5h4M328 174.5h3M341 174.5h2M344 174.5h1M350 174.5h3M412 174.5h5M420 174.5h8M430 174.5h1M432 174.5h1M435 174.5h1M440 174.5h1M443 174.5h2M447 174.5h1M296 175.5h25M322 175.5h3M327 175.5h3M337 175.5h2M347 175.5h1M349 175.5h3M415 175.5h1M417 175.5h2M421 175.5h1M423 175.5h1M425 175.5h1M430 175.5h1M444 175.5h2M455 175.5h1M295 176.5h2M298 176.5h3M303 176.5h1M306 176.5h9M316 176.5h7M324 176.5h1M327 176.5h3M341 176.5h1M345 176.5h1M347 176.5h3M423 176.5h1M430 176.5h1M444 176.5h1M297 177.5h4M305 177.5h2M308 177.5h2M312 177.5h4M320 177.5h2M326 177.5h1M331 177.5h1M346 177.5h1M443 177.5h1M470 177.5h1M474 177.5h1M297 178.5h1M299 178.5h1M305 178.5h2M311 178.5h2M318 178.5h1M320 178.5h1M325 178.5h1M413 178.5h1M433 178.5h1M307 179.5h1M313 179.5h1M330 179.5h1M300 180.5h1M419 180.5h1M423 180.5h1M440 180.5h1M417 181.5h1M422 181.5h1M337 182.5h1M434 182.5h1M450 182.5h2M453 182.5h1M299 183.5h1M440 183.5h1M448 183.5h1M451 183.5h1M327 184.5h1M330 184.5h1M412 184.5h1M417 184.5h1M423 184.5h1M434 184.5h1M448 184.5h2M454 184.5h1M473 184.5h1M416 185.5h1M422 185.5h1M433 185.5h1M435 185.5h1M446 185.5h1M448 185.5h1M469 185.5h1M425 186.5h1M427 186.5h1M429 186.5h1M431 186.5h1M433 186.5h1M446 186.5h1M468 186.5h1M314 187.5h1M342 187.5h1M420 187.5h3M424 187.5h3M439 187.5h2M449 187.5h1M308 188.5h1M314 188.5h1M324 188.5h1M413 188.5h2M421 188.5h1M427 188.5h3M432 188.5h1M436 188.5h1M438 188.5h2M446 188.5h1M456 188.5h1M459 188.5h1M310 189.5h1M314 189.5h1M422 189.5h1M429 189.5h3M434 189.5h3M438 189.5h1M451 189.5h1M458 189.5h1M327 190.5h1M338 190.5h1M414 190.5h1M425 190.5h1M429 190.5h1M440 190.5h1M442 190.5h2M298 191.5h1M300 191.5h1M303 191.5h1M414 191.5h1M417 191.5h1M425 191.5h1M429 191.5h1M431 191.5h1M435 191.5h1M437 191.5h1M442 191.5h2M447 191.5h3M308 192.5h2M341 192.5h1M343 192.5h1M348 192.5h1M421 192.5h2M425 192.5h1M428 192.5h4M443 192.5h1M447 192.5h2M473 192.5h1M331 193.5h1M338 193.5h1M342 193.5h1M347 193.5h4M415 193.5h2M422 193.5h1M425 193.5h2M428 193.5h1M430 193.5h2M439 193.5h1M445 193.5h2M448 193.5h1M450 193.5h1M304 194.5h1M331 194.5h1M336 194.5h1M340 194.5h1M348 194.5h3M413 194.5h1M415 194.5h2M420 194.5h1M424 194.5h3M430 194.5h1M441 194.5h3M446 194.5h1M449 194.5h1M462 194.5h1M304 195.5h1M313 195.5h1M343 195.5h1M345 195.5h1M347 195.5h4M415 195.5h2M419 195.5h6M426 195.5h6M436 195.5h1M441 195.5h1M449 195.5h1M296 196.5h1M305 196.5h2M311 196.5h1M316 196.5h1M343 196.5h7M351 196.5h3M414 196.5h1M417 196.5h2M421 196.5h2M424 196.5h4M429 196.5h3M467 196.5h1M310 197.5h1M312 197.5h1M344 197.5h1M346 197.5h10M412 197.5h1M420 197.5h1M422 197.5h6M429 197.5h1M431 197.5h2M436 197.5h1M438 197.5h1M444 197.5h1M317 198.5h1M325 198.5h1M343 198.5h11M416 198.5h4M421 198.5h7M431 198.5h2M434 198.5h1M447 198.5h1M477 198.5h1M306 199.5h2M314 199.5h1M344 199.5h8M353 199.5h2M412 199.5h3M416 199.5h18M435 199.5h1M442 199.5h1M306 200.5h2M309 200.5h2M315 200.5h1M333 200.5h1M344 200.5h10M413 200.5h3M417 200.5h18M440 200.5h1M442 200.5h2M450 200.5h1M304 201.5h1M311 201.5h3M317 201.5h1M319 201.5h2M341 201.5h1M343 201.5h12M412 201.5h20M437 201.5h1M440 201.5h1M444 201.5h1M299 202.5h1M303 202.5h3M313 202.5h1M333 202.5h2M338 202.5h1M343 202.5h13M412 202.5h26M440 202.5h2M444 202.5h1M455 202.5h1M295 203.5h1M300 203.5h1M303 203.5h1M306 203.5h4M313 203.5h2M316 203.5h1M318 203.5h1M321 203.5h1M327 203.5h1M343 203.5h13M412 203.5h26M441 203.5h1M452 203.5h1M300 204.5h3M305 204.5h1M308 204.5h4M314 204.5h4M321 204.5h1M339 204.5h1M342 204.5h16M413 204.5h25M439 204.5h2M442 204.5h3M447 204.5h1M296 205.5h29M336 205.5h1M340 205.5h1M342 205.5h13M356 205.5h1M412 205.5h28M441 205.5h2M444 205.5h1M448 205.5h4M296 206.5h28M330 206.5h1M340 206.5h2M343 206.5h12M357 206.5h1M413 206.5h26M441 206.5h1M444 206.5h1M447 206.5h1M451 206.5h1M295 207.5h3M299 207.5h1M301 207.5h28M335 207.5h1M343 207.5h12M356 207.5h2M412 207.5h25M439 207.5h2M446 207.5h2M295 208.5h30M326 208.5h3M334 208.5h2M342 208.5h1M344 208.5h13M412 208.5h26M439 208.5h2M447 208.5h1M453 208.5h1M295 209.5h30M326 209.5h4M341 209.5h1M343 209.5h13M412 209.5h29M442 209.5h4M296 210.5h32M330 210.5h1M341 210.5h13M356 210.5h1M412 210.5h27M441 210.5h3M448 210.5h1M453 210.5h1M295 211.5h32M329 211.5h2M332 211.5h3M340 211.5h17M413 211.5h25M439 211.5h1M441 211.5h1M451 211.5h1M295 212.5h35M332 212.5h1M336 212.5h1M340 212.5h15M412 212.5h25M439 212.5h2M442 212.5h1M296 213.5h33M330 213.5h1M333 213.5h1M341 213.5h16M358 213.5h1M412 213.5h28M443 213.5h2M447 213.5h1M451 213.5h1M453 213.5h2M295 214.5h31M327 214.5h1M342 214.5h14M357 214.5h1M412 214.5h29M443 214.5h1M296 215.5h33M330 215.5h1M336 215.5h1M341 215.5h15M412 215.5h29M442 215.5h1M296 216.5h32M329 216.5h1M342 216.5h12M355 216.5h1M357 216.5h1M412 216.5h24M437 216.5h1M439 216.5h1M445 216.5h1M295 217.5h33M335 217.5h1M340 217.5h15M356 217.5h2M413 217.5h24M438 217.5h1M448 217.5h1M296 218.5h33M330 218.5h1M334 218.5h1M340 218.5h1M342 218.5h13M413 218.5h27M442 218.5h2M448 218.5h1M295 219.5h35M340 219.5h15M356 219.5h1M412 219.5h23M436 219.5h1M439 219.5h2M442 219.5h1M296 220.5h33M335 220.5h1M338 220.5h1M341 220.5h2M344 220.5h13M412 220.5h26M442 220.5h1M297 221.5h33M335 221.5h1M341 221.5h15M357 221.5h1M413 221.5h23M437 221.5h1M456 221.5h1M297 222.5h32M338 222.5h1M340 222.5h16M357 222.5h1M412 222.5h23M436 222.5h2M447 222.5h1M463 222.5h1M298 223.5h32M332 223.5h1M341 223.5h1M343 223.5h12M356 223.5h1M414 223.5h21M436 223.5h2M440 223.5h1M443 223.5h1M445 223.5h1M296 224.5h3M300 224.5h27M328 224.5h1M330 224.5h1M337 224.5h1M339 224.5h1M341 224.5h1M343 224.5h13M413 224.5h23M437 224.5h1M439 224.5h1M295 225.5h2M298 225.5h1M300 225.5h27M332 225.5h2M340 225.5h1M342 225.5h2M345 225.5h5M351 225.5h5M416 225.5h16M433 225.5h3M439 225.5h1M296 226.5h1M299 226.5h1M301 226.5h20M324 226.5h2M332 226.5h1M342 226.5h3M346 226.5h5M352 226.5h4M413 226.5h1M416 226.5h2M420 226.5h7M428 226.5h2M434 226.5h1M439 226.5h1M445 226.5h1M451 226.5h1M298 227.5h1M300 227.5h4M305 227.5h2M308 227.5h8M326 227.5h1M343 227.5h5M350 227.5h1M413 227.5h1M417 227.5h5M424 227.5h2M428 227.5h2M436 227.5h1" stroke="#121212" stroke-width="1" fill="none"/></g>
<path d="M294,47.9 L322.3,47.9" fill="none" stroke="#7a7a7a" stroke-width="0.9"/>
<path d="M294,72.5 L334,72.5" fill="none" stroke="#7a7a7a" stroke-width="0.9"/>
<path d="M323.3,47.9 L325.3,44.3 L333.4,39.2 L361.7,32.1 L367.7,44.3 L365.7,56.4 L358.7,66.5 L352,73" fill="none" stroke="#7a7a7a" stroke-width="0.9"/>
<path d="M352.5,77.8 L361.1,77.8 L361.1,117" fill="none" stroke="#7a7a7a" stroke-width="0.9"/>
<path d="M411.5,45.3 L441,45.3" fill="none" stroke="#7a7a7a" stroke-width="0.9"/>
<path d="M411.5,72.1 L453.5,72.1 L453.5,116.3" fill="none" stroke="#7a7a7a" stroke-width="0.9"/>
<path d="M443.4,45.3 L446.4,41.2 L455.5,36.6 L478.7,32.1 L482.7,37.2 L484.8,46.3 L483.8,55.4 L475.7,64.4 L470,69" fill="none" stroke="#7a7a7a" stroke-width="0.9"/>
<path d="M453.5,77.2 L478.1,77.2 L478.1,116.3" fill="none" stroke="#7a7a7a" stroke-width="0.9"/>
<path d="M294,154.3 L334.4,154.3 L334.4,182.1 L294,182.1" fill="none" stroke="#7a7a7a" stroke-width="0.9"/>
<path d="M352,191.2 L362.7,191.2 L362.7,228.8" fill="none" stroke="#7a7a7a" stroke-width="0.9"/>
<path d="M411,155.3 L452.5,155.3 L452.5,181.3 L411,181.3" fill="none" stroke="#7a7a7a" stroke-width="0.9"/>
<path d="M452.5,228.7 L452.5,191.2 L480.7,191.2 L480.7,228.7" fill="none" stroke="#7a7a7a" stroke-width="0.9"/>
<text x="305.9" y="40" font-family="Liberation Serif" font-size="14" fill="#111" stroke="#222" stroke-width="0.12" >3</text>
<text x="368.4" y="40" font-family="Liberation Serif" font-size="14" textLength="13.2" lengthAdjust="spacingAndGlyphs" fill="#111" stroke="#222" stroke-width="0.12" >84</text>
<text x="364.4" y="104.6" font-family="Liberation Serif" font-size="14" fill="#111" stroke="#222" stroke-width="0.12" >8</text>
<text x="421.7" y="40.2" font-family="Liberation Serif" font-size="14" fill="#111" stroke="#222" stroke-width="0.12" >6</text>
<text x="484.6" y="40.2" font-family="Liberation Serif" font-size="14" textLength="13.2" lengthAdjust="spacingAndGlyphs" fill="#111" stroke="#222" stroke-width="0.12" >88</text>
<text x="480.3" y="105.4" font-family="Liberation Serif" font-size="14" textLength="17.6" lengthAdjust="spacingAndGlyphs" fill="#111" stroke="#222" stroke-width="0.12" >0.9</text>
<text x="300.6" y="150" font-family="Liberation Serif" font-size="14" textLength="13.4" lengthAdjust="spacingAndGlyphs" fill="#111" stroke="#222" stroke-width="0.12" >24</text>
<text x="366" y="216.6" font-family="Liberation Serif" font-size="14" textLength="13" lengthAdjust="spacingAndGlyphs" fill="#111" stroke="#222" stroke-width="0.12" >46</text>
<text x="418.4" y="150.2" font-family="Liberation Serif" font-size="14" textLength="13" lengthAdjust="spacingAndGlyphs" fill="#111" stroke="#222" stroke-width="0.12" >54</text>
<text x="483.3" y="216.7" font-family="Liberation Serif" font-size="14" textLength="17" lengthAdjust="spacingAndGlyphs" fill="#111" stroke="#222" stroke-width="0.12" >1.6</text>
<text transform="translate(288.2,92.8) rotate(-90)" font-family="Liberation Serif" font-size="13" fill="#111" stroke="#222" stroke-width="0.12" textLength="38.8" lengthAdjust="spacingAndGlyphs">thymus</text>
<text transform="translate(288.8,214.9) rotate(-90)" font-family="Liberation Serif" font-size="13" fill="#111" stroke="#222" stroke-width="0.12" textLength="71.9" lengthAdjust="spacingAndGlyphs">lymph nodes</text>
<text transform="translate(517.9,46) rotate(-90)" font-family="Liberation Serif" font-size="12.5" fill="#111" stroke="#222" stroke-width="0.12" textLength="25.2" lengthAdjust="spacingAndGlyphs">CD8</text>
<line x1="513.6" y1="55" x2="513.6" y2="230" stroke="#222" stroke-width="1.2" />
<path d="M508.2,64.5 L513.6,54.5 L519,64.5" fill="none" stroke="#222" stroke-width="1.1"/>
<line x1="294.5" y1="237.6" x2="472" y2="237.6" stroke="#222" stroke-width="1.3" />
<path d="M464.5,233.8 L472.5,237.6 L464.5,241.6" fill="none" stroke="#222" stroke-width="1.1"/>
<text x="480" y="243.2" font-family="Liberation Serif" font-size="12.5" textLength="26" lengthAdjust="spacingAndGlyphs" fill="#111" stroke="#222" stroke-width="0.12" >CD4</text>
</svg></body></html>
